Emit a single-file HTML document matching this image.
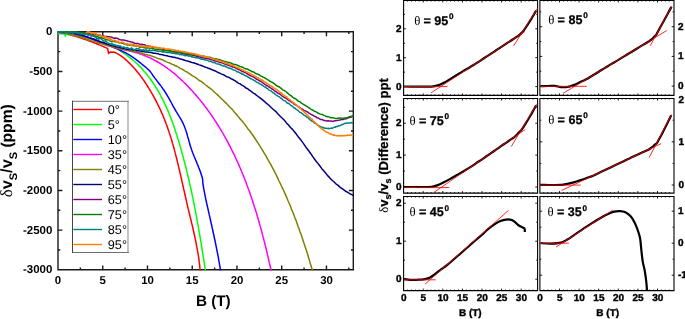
<!DOCTYPE html>
<html lang="en"><head><meta charset="utf-8"><title>Sound velocity vs B</title>
<style>html,body{margin:0;padding:0;background:#fff;overflow:hidden}svg{display:block}text{font-family:"Liberation Sans",sans-serif;fill:#000;text-rendering:geometricPrecision}.b{font-weight:bold}.sy{font-family:"Liberation Serif","DejaVu Serif",serif;font-weight:normal;stroke:none}.s{stroke:#000;stroke-width:0.4px;stroke-linejoin:round}.s2{stroke:#000;stroke-width:0.25px;stroke-linejoin:round}.c{fill:none;stroke-linejoin:round;stroke-linecap:butt}</style></head><body>
<svg width="685" height="319" viewBox="0 0 685 319">
<rect width="685" height="319" fill="#fff"/>
<defs><clipPath id="cl"><rect x="58.0" y="31.0" width="295.7" height="239.4"/></clipPath></defs>
<path d="M58.0 31.8H353.3V269.8H58.0ZM80.37 269.8v-2.3M80.37 31.8v2.3M102.74 269.8v-4.4M102.74 31.8v4.4M125.11 269.8v-2.3M125.11 31.8v2.3M147.48 269.8v-4.4M147.48 31.8v4.4M169.86 269.8v-2.3M169.86 31.8v2.3M192.23 269.8v-4.4M192.23 31.8v4.4M214.60 269.8v-2.3M214.60 31.8v2.3M236.97 269.8v-4.4M236.97 31.8v4.4M259.34 269.8v-2.3M259.34 31.8v2.3M281.71 269.8v-4.4M281.71 31.8v4.4M304.08 269.8v-2.3M304.08 31.8v2.3M326.45 269.8v-4.4M326.45 31.8v4.4M348.83 269.8v-2.3M348.83 31.8v2.3M58.0 51.63h2.3M353.3 51.63h-2.3M58.0 71.47h4.4M353.3 71.47h-4.4M58.0 91.30h2.3M353.3 91.30h-2.3M58.0 111.13h4.4M353.3 111.13h-4.4M58.0 130.97h2.3M353.3 130.97h-2.3M58.0 150.80h4.4M353.3 150.80h-4.4M58.0 170.63h2.3M353.3 170.63h-2.3M58.0 190.47h4.4M353.3 190.47h-4.4M58.0 210.30h2.3M353.3 210.30h-2.3M58.0 230.13h4.4M353.3 230.13h-4.4M58.0 249.97h2.3M353.3 249.97h-2.3" fill="none" stroke="#1a1a1a" stroke-width="1.4" stroke-linejoin="miter"/>
<g clip-path="url(#cl)">
<path class="c" stroke="#ff0000" stroke-width="1.50" d="M58.0 32.2C58.3 32.3 59.4 32.5 60.0 32.6C60.7 32.8 61.4 32.9 62.1 33.0C62.8 33.2 63.5 33.3 64.1 33.5C64.8 33.6 65.5 33.8 66.2 33.9C66.9 34.1 67.5 34.3 68.2 34.4C68.9 34.6 69.6 34.8 70.2 35.0C70.9 35.1 71.6 35.3 72.3 35.5C72.9 35.7 73.6 35.9 74.3 36.1C75.0 36.3 75.6 36.4 76.3 36.6C77.0 36.8 77.6 37.0 78.3 37.3C79.0 37.5 79.6 37.7 80.3 37.9C80.9 38.1 81.6 38.3 82.3 38.5C82.9 38.7 83.6 39.0 84.3 39.2C84.9 39.4 85.6 39.6 86.2 39.9C86.9 40.1 87.5 40.3 88.2 40.6C88.9 40.8 89.5 41.1 90.2 41.3C90.8 41.5 91.5 41.8 92.1 42.0C92.8 42.3 93.4 42.5 94.1 42.8C94.7 43.0 95.4 43.3 96.0 43.5C96.7 43.8 97.3 44.1 98.0 44.3C98.6 44.6 99.3 44.9 99.9 45.1C100.5 45.4 101.2 45.7 101.8 45.9C102.5 46.2 103.1 46.5 103.8 46.8C104.4 47.0 105.0 47.3 105.7 47.6C106.3 47.9 107.3 48.3 107.6 48.4L108.1 51L108.6 53.5L109.6 52.4L111 52.0L113.5 52.2L113.6 52.0C113.9 52.1 114.9 52.5 115.5 52.8C116.1 53.0 116.7 53.3 117.2 53.7C117.8 54.0 118.4 54.3 119.0 54.7C119.5 55.0 120.1 55.4 120.7 55.7C121.2 56.1 121.8 56.5 122.3 56.9C122.8 57.3 123.4 57.7 123.9 58.1C124.4 58.6 124.9 59.0 125.4 59.4C126.0 59.9 126.5 60.3 127.0 60.8C127.5 61.3 128.0 61.7 128.4 62.2C128.9 62.7 129.4 63.1 129.9 63.6C130.4 64.1 130.9 64.6 131.3 65.1C131.8 65.6 132.3 66.1 132.7 66.6C133.2 67.1 133.6 67.6 134.1 68.1C134.5 68.6 135.0 69.1 135.4 69.6C135.9 70.1 136.3 70.6 136.8 71.2C137.2 71.7 137.6 72.2 138.0 72.7C138.5 73.3 138.9 73.8 139.3 74.3C139.7 74.8 140.1 75.4 140.5 75.9C140.9 76.5 141.3 77.0 141.7 77.5C142.1 78.1 142.5 78.6 142.9 79.2C143.3 79.7 143.7 80.3 144.1 80.8C144.4 81.4 144.8 81.9 145.2 82.5C145.6 83.1 145.9 83.6 146.3 84.2C146.6 84.7 147.0 85.3 147.4 85.9C147.7 86.5 148.1 87.0 148.4 87.6C148.8 88.2 149.1 88.7 149.5 89.3C149.8 89.9 150.2 90.5 150.5 91.1C150.9 91.6 151.2 92.2 151.6 92.8C151.9 93.4 152.2 94.0 152.6 94.6C152.9 95.2 153.2 95.8 153.6 96.3C153.9 96.9 154.2 97.5 154.5 98.1C154.8 98.7 155.2 99.3 155.5 99.9C155.8 100.5 156.1 101.1 156.4 101.7C156.7 102.3 157.0 102.9 157.3 103.5C157.6 104.1 157.9 104.8 158.2 105.4C158.5 106.0 158.8 106.6 159.1 107.2C159.4 107.8 159.7 108.4 160.0 109.0C160.3 109.7 160.6 110.3 160.8 110.9C161.1 111.5 161.4 112.1 161.7 112.7C161.9 113.4 162.2 114.0 162.5 114.6C162.7 115.2 163.0 115.8 163.3 116.5C163.5 117.1 163.8 117.7 164.0 118.3C164.3 119.0 164.5 119.6 164.8 120.2C165.0 120.8 165.3 121.5 165.5 122.1C165.7 122.7 166.0 123.4 166.2 124.0C166.5 124.6 166.7 125.3 166.9 125.9C167.1 126.5 167.4 127.2 167.6 127.8C167.8 128.4 168.0 129.1 168.3 129.7C168.5 130.3 168.7 131.0 168.9 131.6C169.1 132.3 169.3 132.9 169.5 133.5C169.8 134.2 170.0 134.8 170.2 135.5C170.4 136.1 170.6 136.7 170.8 137.4C171.0 138.0 171.2 138.7 171.4 139.3C171.6 140.0 171.8 140.6 172.0 141.3C172.1 141.9 172.3 142.5 172.5 143.2C172.7 143.8 172.9 144.5 173.1 145.1C173.3 145.8 173.4 146.4 173.6 147.1C173.8 147.7 174.0 148.4 174.2 149.0C174.3 149.7 174.5 150.3 174.7 151.0C174.9 151.6 175.0 152.3 175.2 153.0C175.4 153.6 175.6 154.3 175.7 154.9C175.9 155.6 176.1 156.2 176.2 156.9C176.4 157.5 176.6 158.2 176.7 158.8C176.9 159.5 177.0 160.2 177.2 160.8C177.4 161.5 177.5 162.1 177.7 162.8C177.8 163.4 178.0 164.1 178.2 164.8C178.3 165.4 178.5 166.1 178.6 166.7C178.8 167.4 178.9 168.1 179.1 168.7C179.2 169.4 179.4 170.0 179.6 170.7C179.7 171.4 179.9 172.0 180.0 172.7C180.2 173.3 180.3 174.0 180.5 174.7C180.6 175.3 180.8 176.0 180.9 176.6C181.1 177.3 181.2 178.0 181.4 178.6C181.5 179.3 181.7 179.9 181.8 180.6C181.9 181.3 182.1 181.9 182.2 182.6C182.4 183.2 182.5 183.9 182.7 184.6C182.8 185.2 183.0 185.9 183.1 186.6C183.3 187.2 183.4 187.9 183.6 188.5C183.7 189.2 183.9 189.9 184.0 190.5C184.2 191.2 184.3 191.9 184.5 192.5C184.6 193.2 184.8 193.8 184.9 194.5C185.1 195.2 185.2 195.8 185.4 196.5C185.5 197.1 185.7 197.8 185.8 198.5C186.0 199.1 186.1 199.8 186.3 200.4C186.4 201.1 186.6 201.8 186.7 202.4C186.9 203.1 187.0 203.7 187.2 204.4C187.3 205.1 187.5 205.7 187.6 206.4C187.8 207.0 188.0 207.7 188.1 208.4C188.3 209.0 188.4 209.7 188.6 210.3C188.7 211.0 188.9 211.6 189.1 212.3C189.2 213.0 189.4 213.6 189.5 214.3C189.7 214.9 189.9 215.6 190.0 216.2C190.2 216.9 190.3 217.6 190.5 218.2C190.6 218.9 190.8 219.5 191.0 220.2C191.1 220.8 191.3 221.5 191.4 222.2C191.6 222.8 191.7 223.5 191.9 224.1C192.1 224.8 192.2 225.4 192.4 226.1C192.5 226.8 192.7 227.4 192.8 228.1C193.0 228.7 193.1 229.4 193.3 230.1C193.4 230.7 193.6 231.4 193.7 232.0C193.9 232.7 194.0 233.3 194.2 234.0C194.3 234.7 194.5 235.3 194.6 236.0C194.8 236.6 194.9 237.3 195.0 238.0C195.2 238.6 195.3 239.3 195.5 239.9C195.6 240.6 195.7 241.3 195.9 241.9C196.0 242.6 196.1 243.2 196.3 243.9C196.4 244.6 196.5 245.2 196.6 245.9C196.8 246.6 196.9 247.2 197.0 247.9C197.1 248.5 197.3 249.2 197.4 249.9C197.5 250.5 197.6 251.2 197.7 251.9C197.8 252.5 197.9 253.2 198.1 253.9C198.2 254.5 198.3 255.2 198.4 255.9C198.5 256.5 198.6 257.2 198.7 257.9C198.8 258.5 198.9 259.2 199.0 259.9C199.0 260.5 199.1 261.2 199.2 261.9C199.3 262.6 199.4 263.2 199.5 263.9C199.6 264.6 199.6 265.2 199.7 265.9C199.8 266.6 199.8 267.3 199.9 267.9C200.0 268.6 200.0 269.3 200.1 270.0C200.2 270.6 200.2 271.7 200.3 272.0"/>
<path class="c" stroke="#00ff00" stroke-width="1.50" d="M58.1 33.6C58.4 33.6 59.4 33.6 60.0 33.7C60.7 33.7 61.3 33.8 62.0 33.8C62.7 33.9 63.3 33.9 64.0 34.0C64.6 34.0 65.3 34.1 66.0 34.2C66.6 34.2 67.3 34.3 68.0 34.4C68.6 34.5 69.3 34.5 70.0 34.6C70.6 34.7 71.3 34.8 71.9 34.9C72.6 35.0 73.3 35.1 73.9 35.2C74.6 35.3 75.3 35.4 75.9 35.5C76.6 35.6 77.3 35.7 77.9 35.8C78.6 36.0 79.3 36.1 79.9 36.2C80.6 36.3 81.2 36.5 81.9 36.6C82.6 36.7 83.2 36.9 83.9 37.0C84.5 37.2 85.2 37.3 85.9 37.5C86.5 37.6 87.2 37.8 87.8 38.0C88.5 38.1 89.2 38.3 89.8 38.5C90.5 38.6 91.1 38.8 91.8 39.0C92.4 39.2 93.1 39.4 93.7 39.6C94.4 39.8 95.0 40.0 95.7 40.2C96.3 40.4 97.0 40.6 97.6 40.8C98.2 41.0 98.9 41.2 99.5 41.4C100.2 41.7 100.8 41.9 101.4 42.1C102.1 42.4 102.7 42.6 103.3 42.8C104.0 43.1 104.6 43.3 105.2 43.6C105.8 43.8 106.5 44.1 107.1 44.4C107.7 44.6 108.3 44.9 108.9 45.2C109.6 45.5 110.2 45.7 110.8 46.0C111.4 46.3 112.0 46.6 112.6 46.9C113.2 47.2 113.8 47.5 114.4 47.8C115.0 48.1 115.6 48.4 116.2 48.7C116.8 49.0 117.4 49.4 118.0 49.7C118.5 50.0 119.1 50.4 119.7 50.7C120.3 51.0 120.9 51.4 121.4 51.7C122.0 52.1 122.6 52.4 123.1 52.8C123.7 53.2 124.3 53.5 124.8 53.9C125.4 54.3 125.9 54.7 126.5 55.1C127.0 55.4 127.6 55.8 128.1 56.2C128.6 56.6 129.2 57.0 129.7 57.4C130.2 57.8 130.8 58.3 131.3 58.7C131.8 59.1 132.3 59.5 132.8 60.0C133.3 60.4 133.8 60.8 134.3 61.3C134.9 61.7 135.3 62.2 135.8 62.6C136.3 63.1 136.8 63.5 137.3 64.0C137.8 64.5 138.3 64.9 138.7 65.4C139.2 65.9 139.7 66.4 140.2 66.8C140.6 67.3 141.1 67.8 141.5 68.3C142.0 68.8 142.4 69.3 142.9 69.8C143.3 70.3 143.8 70.8 144.2 71.3C144.7 71.8 145.1 72.3 145.5 72.8C146.0 73.4 146.4 73.9 146.8 74.4C147.2 74.9 147.6 75.5 148.0 76.0C148.5 76.5 148.9 77.0 149.3 77.6C149.7 78.1 150.1 78.7 150.5 79.2C150.9 79.7 151.2 80.3 151.6 80.8C152.0 81.4 152.4 81.9 152.8 82.5C153.1 83.0 153.5 83.6 153.9 84.2C154.3 84.7 154.6 85.3 155.0 85.8C155.3 86.4 155.7 87.0 156.0 87.5C156.4 88.1 156.7 88.7 157.1 89.2C157.4 89.8 157.8 90.4 158.1 91.0C158.4 91.6 158.8 92.1 159.1 92.7C159.4 93.3 159.8 93.9 160.1 94.5C160.4 95.1 160.7 95.7 161.0 96.3C161.3 96.8 161.7 97.4 162.0 98.0C162.3 98.6 162.6 99.2 162.9 99.8C163.2 100.4 163.5 101.0 163.8 101.6C164.1 102.2 164.4 102.9 164.6 103.5C164.9 104.1 165.2 104.7 165.5 105.3C165.8 105.9 166.1 106.5 166.3 107.1C166.6 107.8 166.9 108.4 167.2 109.0C167.4 109.6 167.7 110.2 168.0 110.9C168.2 111.5 168.5 112.1 168.7 112.7C169.0 113.3 169.2 114.0 169.5 114.6C169.8 115.2 170.0 115.9 170.3 116.5C170.5 117.1 170.7 117.8 171.0 118.4C171.2 119.0 171.5 119.7 171.7 120.3C171.9 120.9 172.2 121.6 172.4 122.2C172.6 122.8 172.9 123.5 173.1 124.1C173.3 124.8 173.6 125.4 173.8 126.0C174.0 126.7 174.2 127.3 174.4 128.0C174.7 128.6 174.9 129.3 175.1 129.9C175.3 130.5 175.5 131.2 175.7 131.8C176.0 132.5 176.2 133.1 176.4 133.8C176.6 134.4 176.8 135.1 177.0 135.7C177.2 136.4 177.4 137.0 177.6 137.7C177.8 138.3 178.0 139.0 178.2 139.6C178.4 140.3 178.6 140.9 178.8 141.6C179.0 142.2 179.2 142.9 179.4 143.5C179.6 144.2 179.7 144.8 179.9 145.5C180.1 146.1 180.3 146.8 180.5 147.4C180.7 148.1 180.9 148.7 181.1 149.4C181.2 150.0 181.4 150.7 181.6 151.3C181.8 152.0 182.0 152.6 182.1 153.3C182.3 153.9 182.5 154.6 182.7 155.3C182.9 155.9 183.0 156.6 183.2 157.2C183.4 157.9 183.6 158.5 183.7 159.2C183.9 159.8 184.1 160.5 184.2 161.1C184.4 161.8 184.6 162.4 184.8 163.1C184.9 163.7 185.1 164.4 185.3 165.0C185.4 165.7 185.6 166.3 185.7 167.0C185.9 167.6 186.1 168.3 186.2 168.9C186.4 169.6 186.6 170.3 186.7 170.9C186.9 171.6 187.0 172.2 187.2 172.9C187.4 173.5 187.5 174.2 187.7 174.8C187.8 175.5 188.0 176.1 188.1 176.8C188.3 177.4 188.4 178.1 188.6 178.7C188.7 179.4 188.9 180.0 189.1 180.7C189.2 181.3 189.4 182.0 189.5 182.7C189.6 183.3 189.8 184.0 189.9 184.6C190.1 185.3 190.2 185.9 190.4 186.6C190.5 187.2 190.7 187.9 190.8 188.5C191.0 189.2 191.1 189.8 191.2 190.5C191.4 191.2 191.5 191.8 191.7 192.5C191.8 193.1 191.9 193.8 192.1 194.4C192.2 195.1 192.4 195.7 192.5 196.4C192.6 197.1 192.8 197.7 192.9 198.4C193.0 199.0 193.2 199.7 193.3 200.3C193.4 201.0 193.6 201.6 193.7 202.3C193.8 203.0 194.0 203.6 194.1 204.3C194.2 204.9 194.4 205.6 194.5 206.2C194.6 206.9 194.7 207.6 194.9 208.2C195.0 208.9 195.1 209.5 195.3 210.2C195.4 210.8 195.5 211.5 195.6 212.2C195.8 212.8 195.9 213.5 196.0 214.1C196.1 214.8 196.3 215.4 196.4 216.1C196.5 216.8 196.6 217.4 196.7 218.1C196.9 218.7 197.0 219.4 197.1 220.1C197.2 220.7 197.4 221.4 197.5 222.0C197.6 222.7 197.7 223.4 197.8 224.0C197.9 224.7 198.1 225.3 198.2 226.0C198.3 226.7 198.4 227.3 198.5 228.0C198.6 228.6 198.8 229.3 198.9 230.0C199.0 230.6 199.1 231.3 199.2 232.0C199.3 232.6 199.4 233.3 199.6 233.9C199.7 234.6 199.8 235.3 199.9 235.9C200.0 236.6 200.1 237.3 200.2 237.9C200.3 238.6 200.5 239.3 200.6 239.9C200.7 240.6 200.8 241.2 200.9 241.9C201.0 242.6 201.1 243.2 201.2 243.9C201.3 244.6 201.4 245.2 201.5 245.9C201.7 246.6 201.8 247.2 201.9 247.9C202.0 248.6 202.1 249.2 202.2 249.9C202.3 250.6 202.4 251.2 202.5 251.9C202.6 252.6 202.7 253.2 202.8 253.9C202.9 254.6 203.0 255.3 203.1 255.9C203.2 256.6 203.4 257.3 203.5 257.9C203.6 258.6 203.7 259.3 203.8 259.9C203.9 260.6 204.0 261.3 204.1 262.0C204.2 262.6 204.3 263.3 204.4 264.0C204.5 264.6 204.6 265.3 204.7 266.0C204.8 266.7 204.9 267.3 205.0 268.0C205.1 268.7 205.2 269.4 205.3 270.0C205.4 270.7 205.6 271.7 205.6 272.1"/>
<path class="c" stroke="#00ff00" stroke-width="1.3" d="M64.6 34.2L65.3 36.4L66.1 34.4"/>
<path class="c" stroke="#0000ff" stroke-width="1.50" d="M58.0 32.1C58.3 32.2 59.3 32.3 60.0 32.4C60.7 32.5 61.3 32.6 62.0 32.7C62.7 32.8 63.3 32.9 64.0 33.0C64.7 33.1 65.3 33.1 66.0 33.2C66.7 33.3 67.3 33.4 68.0 33.5C68.7 33.6 69.4 33.7 70.0 33.8C70.7 33.8 71.4 33.9 72.0 34.0C72.7 34.1 73.4 34.2 74.1 34.3C74.7 34.4 75.4 34.5 76.1 34.6C76.7 34.7 77.4 34.8 78.1 35.0C78.7 35.1 79.4 35.2 80.1 35.3C80.7 35.5 81.4 35.6 82.1 35.7C82.7 35.9 83.4 36.0 84.0 36.2C84.7 36.3 85.3 36.5 86.0 36.7C86.6 36.8 87.3 37.0 87.9 37.2C88.6 37.4 89.2 37.6 89.9 37.8C90.5 38.0 91.1 38.2 91.8 38.4C92.4 38.6 93.1 38.8 93.7 39.0C94.3 39.3 95.0 39.5 95.6 39.7C96.2 40.0 96.8 40.2 97.5 40.5C98.1 40.7 98.7 40.9 99.4 41.2C100.0 41.4 100.6 41.7 101.2 42.0C101.9 42.2 102.5 42.5 103.1 42.7C103.7 43.0 104.3 43.3 105.0 43.5C105.6 43.8 106.2 44.1 106.8 44.3C107.4 44.6 108.1 44.9 108.7 45.1C109.3 45.4 109.9 45.7 110.6 45.9C111.2 46.2 111.8 46.5 112.4 46.7C113.0 47.0 113.7 47.3 114.3 47.6C114.9 47.8 115.5 48.1 116.1 48.4C116.8 48.6 117.4 48.9 118.0 49.2C118.6 49.5 119.2 49.7 119.8 50.0C120.4 50.3 121.1 50.6 121.7 50.9C122.3 51.2 122.9 51.5 123.5 51.8C124.1 52.1 124.7 52.4 125.3 52.7C125.9 53.0 126.5 53.3 127.0 53.7C127.6 54.0 128.2 54.3 128.8 54.7C129.4 55.0 129.9 55.4 130.5 55.7C131.1 56.1 131.7 56.4 132.2 56.8C132.8 57.2 133.3 57.6 133.9 58.0C134.4 58.4 135.0 58.8 135.5 59.2C136.1 59.6 136.6 60.0 137.1 60.4C137.7 60.8 138.2 61.2 138.7 61.6C139.3 62.1 139.8 62.5 140.3 62.9C140.9 63.3 141.4 63.8 141.9 64.2C142.4 64.6 143.0 65.0 143.5 65.5C144.0 65.9 144.6 66.3 145.1 66.7C145.6 67.2 146.1 67.6 146.6 68.0C147.1 68.5 147.6 68.9 148.1 69.4C148.6 69.8 149.1 70.3 149.5 70.8C150.0 71.3 150.4 71.8 150.8 72.4C151.2 72.9 151.6 73.4 152.0 74.0C152.4 74.5 152.7 75.1 153.1 75.7C153.5 76.2 153.9 76.8 154.3 77.3C154.7 77.9 155.1 78.4 155.5 78.9C155.9 79.5 156.3 80.0 156.8 80.6C157.2 81.1 157.6 81.6 158.0 82.2C158.4 82.7 158.8 83.2 159.2 83.7C159.7 84.3 160.1 84.8 160.5 85.4C160.9 85.9 161.3 86.4 161.7 87.0C162.1 87.5 162.5 88.1 162.8 88.7C163.2 89.2 163.6 89.8 164.0 90.3C164.4 90.9 164.7 91.5 165.1 92.0C165.5 92.6 165.8 93.2 166.2 93.7C166.5 94.3 166.9 94.9 167.2 95.5C167.6 96.0 167.9 96.6 168.3 97.2C168.6 97.8 168.9 98.4 169.3 99.0C169.6 99.6 169.9 100.1 170.2 100.7C170.6 101.3 170.9 101.9 171.2 102.5C171.5 103.1 171.8 103.7 172.2 104.3C172.5 104.9 172.8 105.5 173.1 106.1C173.5 106.7 173.8 107.3 174.1 107.8C174.4 108.4 174.8 109.0 175.1 109.6C175.4 110.2 175.8 110.8 176.1 111.4C176.5 111.9 176.8 112.5 177.2 113.1C177.5 113.7 177.9 114.3 178.2 114.8C178.6 115.4 179.0 116.0 179.3 116.6C179.7 117.1 180.0 117.7 180.4 118.3C180.7 118.9 181.0 119.5 181.4 120.0C181.7 120.6 182.0 121.2 182.3 121.8C182.6 122.4 182.9 123.0 183.2 123.6C183.5 124.2 183.7 124.9 184.0 125.5C184.3 126.1 184.5 126.7 184.7 127.3C185.0 128.0 185.2 128.6 185.4 129.2C185.7 129.9 185.9 130.5 186.1 131.1C186.3 131.8 186.5 132.4 186.7 133.1C186.9 133.7 187.1 134.4 187.3 135.0C187.4 135.7 187.6 136.3 187.8 137.0C188.0 137.6 188.2 138.3 188.4 138.9C188.5 139.6 188.7 140.2 188.9 140.9C189.1 141.6 189.3 142.2 189.5 142.9C189.6 143.5 189.8 144.2 190.0 144.8C190.2 145.5 190.4 146.1 190.6 146.8C190.8 147.4 191.0 148.0 191.3 148.7C191.5 149.3 191.7 150.0 191.9 150.6C192.2 151.2 192.4 151.9 192.6 152.5C192.9 153.1 193.1 153.8 193.4 154.4C193.6 155.0 193.9 155.6 194.1 156.3C194.4 156.9 194.6 157.5 194.9 158.1C195.1 158.8 195.4 159.4 195.7 160.0C195.9 160.6 196.2 161.2 196.4 161.9C196.7 162.5 197.0 163.1 197.2 163.7C197.5 164.4 197.7 165.0 198.0 165.6C198.2 166.2 198.5 166.9 198.7 167.5C199.0 168.1 199.2 168.7 199.5 169.4C199.7 170.0 199.9 170.6 200.2 171.3C200.4 171.9 200.6 172.5 200.8 173.2C201.1 173.8 201.3 174.5 201.5 175.1C201.7 175.7 201.9 176.4 202.1 177.0C202.2 177.7 202.5 178.7 202.6 179.0L202.8 182.5C202.8 182.8 202.9 183.6 203.0 184.1C203.1 184.6 203.2 185.1 203.2 185.6C203.3 186.1 203.4 186.6 203.5 187.1C203.6 187.6 203.7 188.1 203.7 188.6C203.8 189.1 203.9 189.7 204.0 190.2C204.1 190.7 204.2 191.2 204.3 191.7C204.4 192.2 204.5 192.7 204.6 193.2C204.7 193.7 204.8 194.2 204.9 194.7C205.0 195.2 205.1 195.7 205.2 196.2C205.3 196.7 205.4 197.2 205.5 197.7C205.6 198.2 205.7 198.7 205.8 199.3C205.9 199.8 206.0 200.3 206.1 200.8C206.3 201.3 206.4 201.8 206.5 202.3C206.6 202.8 206.7 203.3 206.8 203.8C206.9 204.3 207.0 204.8 207.1 205.3C207.3 205.8 207.4 206.3 207.5 206.8C207.6 207.3 207.7 207.8 207.8 208.3C207.9 208.8 208.1 209.3 208.2 209.8C208.3 210.3 208.4 210.8 208.5 211.3C208.6 211.8 208.7 212.3 208.8 212.8C209.0 213.3 209.1 213.8 209.2 214.4C209.3 214.9 209.4 215.4 209.5 215.9C209.6 216.4 209.8 216.9 209.9 217.4C210.0 217.9 210.1 218.4 210.2 218.9C210.3 219.4 210.4 219.9 210.5 220.4C210.7 220.9 210.8 221.4 210.9 221.9C211.0 222.4 211.1 222.9 211.2 223.4C211.3 223.9 211.4 224.4 211.6 224.9C211.7 225.4 211.8 225.9 211.9 226.4C212.0 226.9 212.1 227.4 212.2 227.9C212.3 228.5 212.5 229.0 212.6 229.5C212.7 230.0 212.8 230.5 212.9 231.0C213.0 231.5 213.1 232.0 213.2 232.5C213.3 233.0 213.4 233.5 213.6 234.0C213.7 234.5 213.8 235.0 213.9 235.5C214.0 236.0 214.1 236.5 214.2 237.0C214.3 237.5 214.4 238.0 214.5 238.5C214.6 239.0 214.7 239.5 214.8 240.1C215.0 240.6 215.1 241.1 215.2 241.6C215.3 242.1 215.4 242.6 215.5 243.1C215.6 243.6 215.7 244.1 215.8 244.6C215.9 245.1 216.0 245.6 216.1 246.1C216.2 246.6 216.3 247.1 216.4 247.6C216.5 248.1 216.6 248.6 216.7 249.1C216.8 249.7 216.9 250.2 217.0 250.7C217.1 251.2 217.2 251.7 217.3 252.2C217.4 252.7 217.5 253.2 217.6 253.7C217.7 254.2 217.8 254.7 217.9 255.2C218.0 255.7 218.1 256.2 218.2 256.7C218.3 257.3 218.4 257.8 218.5 258.3C218.5 258.8 218.6 259.3 218.7 259.8C218.8 260.3 218.9 260.8 219.0 261.3C219.1 261.8 219.2 262.3 219.3 262.8C219.4 263.3 219.4 263.9 219.5 264.4C219.6 264.9 219.7 265.4 219.8 265.9C219.9 266.4 220.0 266.9 220.0 267.4C220.1 267.9 220.2 268.4 220.3 268.9C220.4 269.5 220.5 270.0 220.5 270.5C220.6 271.0 220.7 271.8 220.8 272.0"/>
<path class="c" stroke="#ff00ff" stroke-width="1.50" d="M58.0 32.2C58.3 32.2 59.3 32.3 60.0 32.4C60.6 32.5 61.3 32.6 62.0 32.6C62.6 32.7 63.3 32.8 64.0 32.9C64.6 33.0 65.3 33.0 66.0 33.1C66.6 33.2 67.3 33.3 68.0 33.4C68.6 33.5 69.3 33.6 70.0 33.7C70.6 33.8 71.3 33.9 72.0 34.0C72.6 34.1 73.3 34.2 74.0 34.3C74.6 34.4 75.3 34.5 76.0 34.7C76.6 34.8 77.3 34.9 77.9 35.0C78.6 35.2 79.3 35.3 79.9 35.4C80.6 35.6 81.2 35.7 81.9 35.9C82.5 36.0 83.2 36.2 83.8 36.4C84.5 36.6 85.1 36.7 85.8 36.9C86.4 37.1 87.1 37.3 87.7 37.5C88.4 37.7 89.0 37.9 89.6 38.1C90.3 38.3 90.9 38.6 91.5 38.8C92.1 39.0 92.8 39.3 93.4 39.5C94.0 39.8 94.6 40.0 95.2 40.3C95.8 40.6 96.5 40.8 97.1 41.1C97.7 41.4 98.3 41.6 98.9 41.9C99.5 42.2 100.1 42.4 100.7 42.7C101.4 43.0 102.0 43.2 102.6 43.5C103.2 43.8 103.8 44.0 104.4 44.3C105.0 44.5 105.7 44.8 106.3 45.0C106.9 45.3 107.5 45.5 108.2 45.8C108.8 46.0 109.4 46.2 110.1 46.4C110.7 46.6 111.3 46.8 112.0 47.0C112.6 47.2 113.3 47.4 113.9 47.6C114.6 47.8 115.3 47.9 115.9 48.1C116.6 48.2 117.2 48.4 117.9 48.5C118.6 48.7 119.2 48.8 119.9 49.0C120.6 49.1 121.2 49.3 121.9 49.4C122.6 49.5 123.2 49.7 123.9 49.8C124.6 49.9 125.2 50.1 125.9 50.2C126.6 50.3 127.2 50.5 127.9 50.6C128.6 50.8 129.2 50.9 129.9 51.0C130.6 51.2 131.2 51.3 131.9 51.5C132.5 51.7 133.2 51.8 133.8 52.0C134.5 52.2 135.1 52.3 135.8 52.5C136.4 52.7 137.1 52.9 137.7 53.1C138.4 53.3 139.0 53.5 139.6 53.7C140.3 53.9 140.9 54.2 141.5 54.4C142.1 54.6 142.8 54.8 143.4 55.1C144.0 55.3 144.6 55.6 145.2 55.8C145.9 56.1 146.5 56.3 147.1 56.6C147.7 56.9 148.3 57.1 148.9 57.4C149.5 57.7 150.1 58.0 150.7 58.3C151.3 58.5 151.9 58.8 152.5 59.1C153.1 59.4 153.7 59.7 154.2 60.1C154.8 60.4 155.4 60.7 156.0 61.0C156.6 61.3 157.1 61.7 157.7 62.0C158.3 62.3 158.9 62.7 159.4 63.0C160.0 63.3 160.6 63.7 161.1 64.0C161.7 64.4 162.2 64.8 162.8 65.1C163.4 65.5 163.9 65.9 164.5 66.2C165.0 66.6 165.6 67.0 166.1 67.4C166.6 67.7 167.2 68.1 167.7 68.5C168.3 68.9 168.8 69.3 169.3 69.7C169.9 70.1 170.4 70.5 170.9 70.9C171.5 71.3 172.0 71.8 172.5 72.2C173.0 72.6 173.5 73.0 174.1 73.4C174.6 73.9 175.1 74.3 175.6 74.7C176.1 75.2 176.6 75.6 177.1 76.0C177.6 76.5 178.1 76.9 178.6 77.4C179.1 77.8 179.6 78.3 180.1 78.7C180.6 79.2 181.1 79.6 181.6 80.1C182.1 80.5 182.6 81.0 183.1 81.5C183.6 81.9 184.0 82.4 184.5 82.9C185.0 83.3 185.5 83.8 186.0 84.3C186.4 84.8 186.9 85.3 187.4 85.7C187.8 86.2 188.3 86.7 188.8 87.2C189.2 87.7 189.7 88.2 190.2 88.7C190.6 89.2 191.1 89.7 191.5 90.2C192.0 90.6 192.4 91.1 192.9 91.6C193.3 92.2 193.8 92.7 194.2 93.2C194.7 93.7 195.1 94.2 195.6 94.7C196.0 95.2 196.4 95.7 196.9 96.2C197.3 96.7 197.7 97.2 198.2 97.7C198.6 98.3 199.0 98.8 199.4 99.3C199.9 99.8 200.3 100.3 200.7 100.9C201.1 101.4 201.5 101.9 202.0 102.4C202.4 103.0 202.8 103.5 203.2 104.0C203.6 104.5 204.0 105.1 204.4 105.6C204.8 106.1 205.2 106.7 205.6 107.2C206.0 107.7 206.4 108.3 206.8 108.8C207.2 109.3 207.6 109.9 208.0 110.4C208.4 111.0 208.8 111.5 209.2 112.0C209.6 112.6 210.0 113.1 210.4 113.7C210.7 114.2 211.1 114.8 211.5 115.3C211.9 115.9 212.3 116.4 212.6 117.0C213.0 117.5 213.4 118.1 213.7 118.6C214.1 119.2 214.5 119.7 214.8 120.3C215.2 120.9 215.6 121.4 215.9 122.0C216.3 122.5 216.7 123.1 217.0 123.7C217.4 124.2 217.7 124.8 218.1 125.3C218.4 125.9 218.8 126.5 219.1 127.0C219.5 127.6 219.8 128.2 220.2 128.8C220.5 129.3 220.9 129.9 221.2 130.5C221.6 131.0 221.9 131.6 222.2 132.2C222.6 132.8 222.9 133.3 223.2 133.9C223.6 134.5 223.9 135.1 224.2 135.7C224.6 136.2 224.9 136.8 225.2 137.4C225.5 138.0 225.9 138.6 226.2 139.2C226.5 139.7 226.8 140.3 227.1 140.9C227.4 141.5 227.8 142.1 228.1 142.7C228.4 143.3 228.7 143.9 229.0 144.5C229.3 145.0 229.6 145.6 229.9 146.2C230.2 146.8 230.5 147.4 230.8 148.0C231.2 148.6 231.5 149.2 231.7 149.8C232.0 150.4 232.3 151.0 232.6 151.6C232.9 152.2 233.2 152.8 233.5 153.4C233.8 154.0 234.1 154.6 234.4 155.2C234.7 155.8 235.0 156.4 235.2 157.0C235.5 157.6 235.8 158.2 236.1 158.9C236.4 159.5 236.6 160.1 236.9 160.7C237.2 161.3 237.5 161.9 237.8 162.5C238.0 163.1 238.3 163.7 238.6 164.3C238.8 165.0 239.1 165.6 239.4 166.2C239.6 166.8 239.9 167.4 240.2 168.0C240.4 168.7 240.7 169.3 241.0 169.9C241.2 170.5 241.5 171.1 241.7 171.7C242.0 172.4 242.2 173.0 242.5 173.6C242.8 174.2 243.0 174.9 243.3 175.5C243.5 176.1 243.8 176.7 244.0 177.3C244.3 178.0 244.5 178.6 244.7 179.2C245.0 179.8 245.2 180.5 245.5 181.1C245.7 181.7 246.0 182.4 246.2 183.0C246.4 183.6 246.7 184.2 246.9 184.9C247.1 185.5 247.4 186.1 247.6 186.8C247.8 187.4 248.1 188.0 248.3 188.7C248.5 189.3 248.8 189.9 249.0 190.6C249.2 191.2 249.4 191.8 249.7 192.5C249.9 193.1 250.1 193.7 250.3 194.4C250.5 195.0 250.8 195.6 251.0 196.3C251.2 196.9 251.4 197.5 251.6 198.2C251.8 198.8 252.1 199.5 252.3 200.1C252.5 200.7 252.7 201.4 252.9 202.0C253.1 202.6 253.3 203.3 253.5 203.9C253.7 204.6 254.0 205.2 254.2 205.9C254.4 206.5 254.6 207.1 254.8 207.8C255.0 208.4 255.2 209.1 255.4 209.7C255.6 210.3 255.8 211.0 256.0 211.6C256.2 212.3 256.4 212.9 256.6 213.6C256.8 214.2 256.9 214.9 257.1 215.5C257.3 216.1 257.5 216.8 257.7 217.4C257.9 218.1 258.1 218.7 258.3 219.4C258.5 220.0 258.7 220.7 258.8 221.3C259.0 222.0 259.2 222.6 259.4 223.3C259.6 223.9 259.8 224.5 259.9 225.2C260.1 225.8 260.3 226.5 260.5 227.1C260.7 227.8 260.8 228.4 261.0 229.1C261.2 229.7 261.4 230.4 261.5 231.0C261.7 231.7 261.9 232.3 262.1 233.0C262.2 233.6 262.4 234.3 262.6 234.9C262.8 235.6 262.9 236.2 263.1 236.9C263.3 237.5 263.4 238.2 263.6 238.8C263.8 239.5 263.9 240.1 264.1 240.8C264.3 241.4 264.4 242.1 264.6 242.7C264.7 243.4 264.9 244.0 265.1 244.7C265.2 245.3 265.4 246.0 265.6 246.6C265.7 247.3 265.9 247.9 266.0 248.6C266.2 249.2 266.3 249.9 266.5 250.5C266.7 251.2 266.8 251.8 267.0 252.5C267.1 253.1 267.3 253.8 267.4 254.4C267.6 255.1 267.7 255.7 267.9 256.4C268.0 257.0 268.2 257.6 268.3 258.3C268.5 258.9 268.6 259.6 268.8 260.2C268.9 260.9 269.1 261.5 269.2 262.2C269.4 262.8 269.5 263.5 269.7 264.1C269.8 264.8 269.9 265.4 270.1 266.1C270.2 266.7 270.4 267.4 270.5 268.0C270.7 268.7 270.8 269.3 270.9 270.0C271.1 270.6 271.3 271.6 271.4 271.9"/>
<path class="c" stroke="#808000" stroke-width="1.50" d="M58.0 32.0L59.6 32.1L61.1 32.2L62.6 32.7L64.1 32.7L65.6 33.2L67.0 33.4L68.5 33.6L70.0 34.1L71.5 34.3L73.0 34.9L74.4 35.1L75.9 35.5L77.4 36.1L78.8 36.7L80.3 36.8L81.7 37.3L83.2 38.0L84.6 38.6L86.1 38.9L87.5 39.3L89.0 40.1L90.4 40.1L91.9 41.0L93.3 41.2L94.8 41.6L96.2 42.0L97.7 42.6L99.2 43.3L100.6 43.4L102.1 44.0L103.5 44.5L105.0 44.8L106.5 45.3L107.9 45.4L109.4 45.8L110.9 46.3L112.3 46.9L113.8 47.1L115.3 47.4L116.7 47.9L118.2 48.2L119.7 48.4L121.2 49.0L122.7 49.3L124.2 49.3L125.6 49.8L127.1 50.1L128.6 50.6L130.1 50.8L131.6 50.9L133.1 51.5L134.6 51.4L136.0 51.8L137.5 52.3L139.0 52.4L140.5 52.9L141.9 53.0L143.4 53.7L144.9 54.2L146.4 54.5L147.8 55.0L149.3 55.2L150.7 55.8L152.2 56.2L153.6 56.7L155.1 57.1L156.5 57.9L157.9 58.4L159.4 58.7L160.8 59.4L162.2 59.6L163.6 60.5L165.0 61.1L166.5 61.9L167.9 62.4L169.3 62.8L170.6 63.5L172.0 64.2L173.4 64.6L174.8 65.5L176.2 66.0L177.5 66.7L178.9 67.4L180.2 68.5L181.6 68.9L182.9 69.7L184.2 70.5L185.6 71.5L186.9 71.9L188.2 72.9L189.5 73.7L190.8 74.7L192.1 75.5L193.4 76.4L194.6 76.9L195.9 77.8L197.2 78.7L198.4 79.8L199.6 80.7L200.9 81.2L202.1 82.1L203.3 83.0L204.5 84.0L205.7 85.0L208.1 86.9L210.5 88.7L212.8 90.5L215.1 92.7L217.3 94.6L219.5 96.8L221.7 99.0L223.9 101.0L226.0 103.1L228.1 105.3L230.2 107.5L232.3 109.4L234.3 112.1L236.3 114.3L238.2 116.6L240.2 118.9L242.1 121.0L244.0 123.4L245.8 125.7L247.6 128.4L249.4 130.5L251.2 133.0L253.0 135.5L254.7 138.0L256.4 140.7L258.1 143.1L259.7 145.6L261.3 148.3L262.9 150.8L264.5 153.6L266.1 156.1L267.6 159.1L269.1 161.7L270.6 164.1L272.0 166.9L273.5 169.7L274.9 172.4L276.3 175.0L277.7 178.1L279.0 181.0L280.3 183.5L281.6 186.3L282.9 188.9L284.2 191.7L285.5 194.6L286.7 197.4L287.9 200.5L289.1 203.0L290.3 205.8L291.4 209.1L292.6 211.7L293.7 214.4L294.8 217.5L295.9 220.1L297.0 223.2L298.0 226.3L299.1 229.1L300.1 231.9L301.1 234.5L302.1 237.4L303.0 240.2L304.0 243.4L304.9 246.1L305.9 249.1L306.8 251.7L307.7 254.5L308.6 257.7L309.5 260.6L310.3 263.4L311.2 266.2L312.0 269.0L312.8 271.7"/>
<path class="c" stroke="#000080" stroke-width="1.50" d="M58.0 32.2L59.5 32.3L61.1 32.0L62.6 32.1L64.2 32.1L65.7 32.1L67.2 32.2L68.7 32.5L70.2 32.6L71.7 33.1L73.2 33.4L74.7 33.5L76.2 34.0L77.6 34.4L79.1 34.8L80.5 35.0L82.0 35.3L83.4 35.8L84.9 36.2L86.3 36.7L87.8 37.3L89.2 37.9L90.7 38.4L92.1 38.8L93.5 39.3L94.9 39.9L96.4 40.2L97.8 40.9L99.2 41.5L100.7 42.0L102.1 42.4L103.5 42.8L105.0 43.2L106.4 43.9L107.9 44.2L109.3 44.8L110.7 45.3L112.2 45.5L113.6 45.9L115.1 46.6L116.5 46.9L118.0 47.0L119.4 47.3L120.9 47.7L122.4 48.3L123.8 48.5L125.3 48.5L126.8 49.1L128.3 49.4L129.7 49.5L131.2 49.6L132.7 49.9L134.2 49.9L135.7 50.1L137.2 50.7L138.7 50.8L140.2 51.0L141.7 51.3L143.1 51.4L144.6 51.8L146.1 52.0L147.6 52.0L149.1 52.2L150.6 52.5L152.1 52.7L153.6 53.2L155.1 53.3L156.6 53.6L158.1 53.8L159.6 54.4L161.1 54.5L162.5 54.8L164.0 55.2L165.5 55.6L167.0 55.8L168.5 56.3L170.0 56.5L171.5 56.8L172.9 57.2L174.4 57.3L175.9 57.8L177.4 58.1L178.8 58.4L180.3 59.1L181.8 59.3L183.2 59.8L184.7 60.3L186.2 60.7L187.6 61.0L189.1 61.5L190.5 62.0L192.0 62.5L193.4 62.7L194.9 63.3L196.3 63.7L197.7 64.2L199.2 64.9L200.6 65.3L202.0 65.8L203.5 66.4L204.9 67.0L206.3 67.4L207.7 68.0L209.1 68.5L210.5 69.0L211.9 69.7L213.3 70.2L214.7 70.8L216.1 71.4L217.5 72.2L218.8 72.7L220.2 73.4L221.6 74.1L222.9 74.5L224.3 75.2L225.6 76.1L227.0 76.7L228.3 77.1L229.7 77.8L231.0 78.7L232.3 79.2L233.6 80.0L234.9 80.7L236.2 81.7L237.5 82.5L238.8 83.4L240.1 83.8L241.4 84.9L242.7 85.6L244.0 86.3L245.2 87.4L246.5 88.3L247.7 88.8L249.0 89.9L250.2 90.6L251.4 91.5L252.7 92.6L253.9 93.4L255.1 94.0L256.3 95.1L257.5 96.0L259.9 97.8L262.3 99.6L264.6 101.6L266.9 103.7L269.2 105.5L271.4 107.7L273.7 109.7L275.9 111.6L278.0 113.9L280.2 116.2L282.3 118.3L284.4 120.3L286.4 122.9L288.5 125.1L290.5 127.5L292.5 129.4L294.4 131.8L296.3 134.1L298.2 136.8L300.1 139.0L301.9 141.4L303.7 143.9L305.5 146.6L307.3 149.0L309.0 151.2L310.8 153.7L312.6 156.4L314.3 158.8L316.1 161.2L317.9 163.4L319.7 165.8L321.6 168.4L323.5 170.6L325.4 172.8L327.4 175.4L329.4 177.4L331.5 179.7L333.6 181.5L335.9 183.8L338.1 185.4L340.5 187.6L341.7 188.4L342.9 189.2L344.2 190.2L345.5 191.2L346.8 191.8L348.1 192.5L349.4 193.5L350.8 194.1L352.2 194.8L353.6 195.7"/>
<path class="c" stroke="#800080" stroke-width="1.50" d="M57.9 31.9L59.5 31.6L61.0 31.5L62.6 31.6L64.1 31.7L65.6 31.7L67.2 32.1L68.7 31.7L70.2 32.0L71.7 31.8L73.3 32.0L74.8 31.8L76.3 32.1L77.8 32.0L79.3 32.7L80.8 32.7L82.3 32.6L83.8 33.0L85.3 33.5L86.8 33.0L88.3 33.8L89.8 33.7L91.3 33.9L92.8 34.4L94.3 34.3L95.8 34.6L97.3 35.0L98.8 35.5L100.2 35.2L101.7 35.9L103.2 36.1L104.7 36.3L106.2 36.4L107.6 36.6L109.1 36.7L110.6 37.1L112.1 37.3L113.5 38.2L115.0 38.1L116.5 38.3L118.0 38.6L119.4 39.5L120.9 39.9L122.4 40.1L123.8 40.1L125.3 40.4L126.8 40.8L128.2 41.3L129.7 41.4L131.2 42.0L132.7 42.2L134.1 43.1L135.6 43.4L137.1 43.4L138.5 43.5L140.0 44.5L141.5 44.3L143.0 44.7L144.4 44.8L145.9 45.4L147.4 45.8L148.9 46.2L150.3 46.3L151.8 46.9L153.3 46.9L154.8 47.4L156.3 47.6L157.8 48.1L159.2 48.2L160.7 48.5L162.2 49.0L163.7 49.3L165.2 49.8L166.7 50.1L168.2 50.5L169.7 50.8L171.2 51.1L172.7 51.5L174.2 51.5L175.7 51.8L177.2 52.5L178.7 52.3L180.2 52.9L181.7 53.2L183.2 53.1L184.7 53.9L186.2 54.2L187.6 54.4L189.1 54.7L190.6 55.1L192.1 55.0L193.6 55.5L195.1 55.9L196.6 56.4L198.1 56.7L199.5 57.0L201.0 57.2L202.5 57.8L204.0 58.0L205.4 58.4L206.9 58.5L208.4 58.7L209.8 59.2L211.3 59.7L212.7 59.9L214.2 60.8L215.6 61.0L217.1 61.5L218.5 61.9L220.0 62.4L221.4 62.8L222.8 62.9L224.2 63.9L225.7 64.4L227.1 64.7L228.5 65.3L229.9 65.9L231.3 66.1L232.7 67.0L234.1 67.3L235.4 67.8L236.8 68.5L238.2 69.4L239.5 69.7L240.9 70.7L242.2 71.5L243.6 71.8L244.9 72.5L246.3 73.2L247.6 74.1L248.9 74.8L250.2 75.5L251.6 76.2L252.9 76.6L254.2 77.4L255.5 78.3L256.8 79.3L258.1 79.9L259.4 80.8L260.7 81.3L262.0 82.1L263.2 83.1L264.5 84.1L265.8 85.0L267.1 85.8L268.4 86.4L269.6 87.4L270.9 88.2L272.2 89.0L273.4 89.7L274.7 91.0L276.0 91.4L277.2 92.7L278.5 93.6L279.8 93.9L281.0 95.0L282.3 96.1L283.6 97.0L284.8 97.6L286.1 98.3L287.3 99.2L288.6 100.5L289.9 100.9L291.1 101.9L292.4 102.5L293.7 103.6L294.9 104.7L296.2 105.0L297.5 106.3L298.7 106.9L300.0 107.9L301.3 108.6L302.6 109.2L303.8 110.4L305.1 110.9L306.4 111.4L307.7 112.2L309.0 113.2L310.3 113.9L311.6 114.6L312.9 115.2L314.2 116.1L315.5 116.7L316.8 117.7L318.1 117.9L319.5 118.9L320.8 119.5L322.2 119.5L323.6 120.4L325.0 120.6L326.5 121.0L327.9 120.8L329.4 121.0L330.9 121.0L332.4 121.4L333.9 121.1L335.4 120.8L337.0 120.6L338.5 120.3L340.0 119.9L341.6 119.6L343.1 119.6L344.6 118.9L346.1 118.8L347.6 118.0L349.1 117.5L350.5 117.2L352.0 116.5L353.4 116.2"/>
<path class="c" stroke="#008000" stroke-width="1.50" d="M58.0 31.8L59.6 31.5L61.2 31.9L62.7 31.7L64.3 31.5L65.8 31.3L67.4 31.6L68.9 31.6L70.4 31.3L71.9 31.6L73.4 31.1L74.9 31.9L76.5 31.8L77.9 32.4L79.4 32.5L80.9 32.4L82.4 32.5L83.9 33.7L85.4 33.2L86.8 33.9L88.3 34.1L89.8 34.5L91.3 35.3L92.7 36.0L94.2 35.7L95.6 36.5L97.1 36.6L98.6 37.3L100.0 37.5L101.5 37.8L103.0 38.2L104.4 38.7L105.9 39.8L107.3 39.8L108.8 40.0L110.3 41.1L111.7 41.5L113.2 41.4L114.7 41.5L116.1 41.9L117.6 42.1L119.1 42.7L120.6 42.8L122.0 43.3L123.5 43.6L125.0 44.2L126.5 44.8L128.0 45.0L129.5 45.0L131.0 45.2L132.4 45.6L133.9 45.7L135.4 45.9L136.9 45.9L138.4 46.4L139.9 47.3L141.4 46.7L142.9 47.3L144.4 47.7L145.9 48.1L147.4 47.7L148.9 48.0L150.4 48.2L151.9 48.5L153.5 48.8L155.0 49.4L156.5 49.5L158.0 49.7L159.5 49.3L161.0 49.5L162.5 50.2L164.0 50.5L165.6 50.4L167.1 50.7L168.6 50.6L170.1 51.0L171.6 51.5L173.1 51.7L174.6 51.9L176.2 52.2L177.7 51.9L179.2 52.1L180.7 52.3L182.2 52.7L183.7 53.1L185.2 53.4L186.7 53.5L188.3 53.7L189.8 54.0L191.3 54.1L192.8 54.4L194.3 54.3L195.8 55.0L197.3 55.0L198.8 55.6L200.3 55.8L201.8 55.8L203.3 56.0L204.8 56.4L206.3 56.9L207.8 57.2L209.2 57.2L210.7 57.5L212.2 58.1L213.7 58.5L215.2 58.7L216.7 59.0L218.1 59.6L219.6 59.6L221.1 60.2L222.5 60.6L224.0 61.4L225.4 61.6L226.9 62.2L228.4 62.3L229.8 62.7L231.2 63.1L232.7 64.0L234.1 64.4L235.6 64.6L237.0 65.0L238.4 65.8L239.8 66.4L241.3 66.8L242.7 67.3L244.1 68.1L245.5 68.8L246.9 69.0L248.3 69.5L249.7 70.3L251.1 71.0L252.4 71.8L253.8 72.1L255.2 73.2L256.5 73.8L257.9 74.3L259.3 74.9L260.6 76.0L262.0 76.4L263.3 77.4L264.6 77.8L265.9 78.5L267.3 79.6L268.6 80.1L269.9 81.3L271.2 81.9L272.5 82.5L273.8 83.3L275.1 84.3L276.3 85.3L277.6 86.3L278.9 86.7L280.1 87.7L281.4 88.5L282.6 89.9L283.9 90.3L285.1 91.1L286.4 92.0L287.6 93.1L288.9 94.3L290.1 95.2L291.4 96.0L292.6 97.1L293.8 98.0L295.1 98.5L296.3 99.3L297.6 100.6L298.8 101.4L300.1 101.9L301.4 103.1L302.6 103.8L303.9 104.6L305.2 105.4L306.4 106.2L307.7 106.9L309.0 107.8L310.3 108.7L311.6 109.8L312.9 110.1L314.3 111.3L315.6 111.6L317.0 112.3L318.3 113.3L319.7 113.9L321.0 114.3L322.4 114.6L323.8 115.4L325.2 115.9L326.6 116.7L328.0 116.6L329.4 117.1L330.9 117.8L332.3 117.6L333.8 118.0L335.3 118.4L336.7 118.5L338.2 118.2L339.7 118.1L341.2 118.1L342.7 118.5L344.3 118.0L345.8 118.0L347.3 117.8L348.9 117.0L350.5 116.5L352.1 116.3L353.7 115.5"/>
<path class="c" stroke="#008080" stroke-width="1.50" d="M58.0 32.0L59.0 32.2L60.0 31.6L61.1 32.4L62.1 31.8L63.1 31.7L64.1 31.3L65.1 32.6L66.1 32.9L67.2 32.4L68.2 33.0L69.2 31.6L70.2 32.0L71.2 32.4L72.2 33.3L73.2 33.3L74.2 32.5L75.2 32.4L76.2 32.8L77.2 33.0L78.2 33.8L79.2 32.8L80.2 33.9L81.2 33.9L82.2 34.2L83.2 34.3L84.2 34.3L85.2 34.0L86.1 34.2L87.1 34.5L88.1 35.4L89.1 34.5L90.1 35.0L91.0 36.1L92.0 35.6L93.0 35.6L93.9 35.9L94.9 37.1L95.8 37.1L96.8 38.5L97.7 38.7L98.7 39.2L99.6 38.5L100.6 38.6L101.5 39.0L102.5 40.1L103.4 40.9L104.4 40.9L105.3 40.9L106.3 41.7L107.2 42.4L108.1 42.9L109.1 43.4L110.0 43.9L111.0 44.0L111.9 43.5L112.9 45.0L113.9 44.4L114.8 45.2L115.8 45.1L116.7 46.0L117.7 45.4L118.7 45.8L119.6 46.0L120.6 46.1L121.6 47.5L122.6 47.2L123.5 47.0L124.5 47.3L125.5 48.4L126.5 47.8L127.5 47.5L128.5 48.6L129.4 48.5L130.4 49.2L131.4 47.9L132.4 48.7L133.4 49.3L134.4 49.5L135.4 49.7L136.4 48.4L137.4 48.9L138.4 48.8L139.4 49.0L140.4 50.3L141.4 49.8L142.4 50.4L143.4 49.7L144.4 50.5L145.4 50.0L146.4 49.8L147.4 50.6L148.4 50.9L149.4 49.9L150.4 50.6L151.4 50.7L152.4 50.3L153.5 50.6L154.5 50.5L155.5 50.7L156.5 50.8L157.5 51.3L158.5 51.5L159.5 51.1L160.5 51.1L161.5 51.5L162.5 52.0L163.5 51.7L164.5 51.9L165.5 52.0L166.6 52.6L167.6 52.5L168.6 52.3L169.6 52.5L170.6 52.8L171.6 53.1L172.6 53.3L173.6 53.1L174.6 53.3L175.6 53.8L176.6 53.8L177.6 53.8L178.6 54.0L179.6 54.7L180.6 54.4L181.6 54.7L182.6 54.8L183.6 55.0L184.6 55.5L185.6 55.8L186.6 55.5L187.6 55.6L188.6 56.2L189.6 56.0L190.6 56.1L191.6 56.9L192.6 56.8L193.6 57.3L194.6 57.3L195.6 57.8L196.6 57.8L197.6 57.8L198.5 57.9L199.5 58.5L200.5 58.8L201.5 59.3L202.5 59.0L203.5 59.6L204.4 59.7L205.4 60.0L206.4 60.1L207.4 60.4L208.3 60.9L209.3 61.4L210.3 61.2L211.3 61.7L212.2 62.2L213.2 62.7L214.1 62.4L215.1 62.7L216.1 63.6L217.0 63.9L218.0 63.9L218.9 63.9L219.9 64.8L220.8 64.8L221.8 65.5L222.7 65.7L223.7 66.1L224.6 66.0L225.6 66.8L226.5 66.8L227.4 67.3L228.4 68.0L229.3 68.3L230.2 68.3L231.2 68.7L232.1 69.2L233.0 69.7L233.9 70.0L234.9 70.2L235.8 70.7L236.7 71.5L237.6 72.0L238.5 71.9L239.4 72.7L240.3 73.2L241.2 73.2L242.1 74.2L243.0 74.1L243.9 74.9L244.8 75.4L245.7 75.9L246.6 76.1L247.5 76.7L248.4 77.3L249.3 77.7L250.1 78.3L251.0 78.7L251.9 79.1L252.8 79.4L253.6 80.3L254.5 80.7L255.4 81.0L256.3 81.9L257.1 82.4L258.0 82.7L258.8 83.1L259.7 83.8L260.6 84.1L261.4 84.6L262.3 85.4L263.1 85.7L264.0 86.5L264.8 87.1L265.7 87.3L266.5 88.3L267.4 88.4L268.2 89.5L269.1 90.1L269.9 90.4L270.8 90.7L271.6 91.6L272.4 92.0L273.3 93.0L274.1 93.0L275.0 94.1L275.8 94.8L276.6 95.2L277.9 96.1L279.1 96.6L280.4 98.0L281.6 98.5L282.8 99.8L284.1 100.6L285.3 101.0L286.5 102.3L287.8 103.3L289.0 103.6L290.2 104.7L291.5 105.9L292.7 106.4L293.9 107.8L295.1 108.3L296.4 109.6L297.6 110.0L298.8 111.2L300.0 112.4L301.2 112.8L302.5 113.8L303.7 114.9L304.9 115.6L306.1 116.3L307.3 117.3L308.6 118.2L309.8 119.7L311.0 120.4L312.2 121.4L313.4 121.8L314.7 123.1L315.9 123.5L317.1 124.6L318.4 125.5L319.2 125.7L320.1 126.5L320.9 126.7L321.8 127.1L322.7 127.7L323.6 127.4L324.5 128.3L325.4 128.2L326.3 128.3L327.2 128.6L328.2 128.2L329.1 128.8L330.1 128.4L331.1 128.1L332.1 128.2L333.2 127.7L334.2 127.2L335.2 127.3L336.3 126.4L337.3 126.6L338.4 125.8L339.4 125.7L340.5 125.5L341.5 124.8L342.5 124.6L343.6 124.0L344.6 123.4L345.6 123.2L346.6 123.1L347.6 123.2L348.5 123.0L349.5 123.0L350.4 123.1L351.4 122.6L352.3 122.8L353.2 123.0"/>
<path class="c" stroke="#ff8000" stroke-width="1.50" d="M86.1 32.6L86.7 32.9L87.3 31.7L87.9 31.7L88.5 32.4L89.1 31.9L89.7 32.5L90.3 32.3L90.9 33.0L91.5 33.1L92.1 32.5L92.7 33.4L93.3 33.3L93.9 32.8L94.5 34.4L95.1 33.3L95.7 33.3L96.3 33.3L96.8 34.5L97.4 35.1L98.0 35.1L98.6 34.6L99.2 34.6L99.7 34.4L100.3 35.7L100.9 35.8L101.5 35.6L102.0 36.4L102.6 36.3L103.2 37.4L103.8 37.2L104.3 36.6L104.9 38.0L105.5 36.7L106.1 37.8L106.6 37.8L107.2 37.7L107.8 37.6L108.3 39.2L108.9 38.0L109.5 39.2L110.1 40.1L110.6 38.9L111.2 39.2L111.8 40.2L112.4 40.2L112.9 40.6L113.5 41.1L114.1 40.1L114.7 40.6L115.3 40.7L115.8 40.5L116.4 42.1L117.0 42.1L117.6 42.1L118.2 41.0L118.8 42.7L119.3 42.7L119.9 42.3L120.5 42.9L121.1 42.6L121.7 42.3L122.3 42.2L122.9 42.6L123.5 42.3L124.0 43.0L124.6 43.9L125.2 43.9L125.8 44.3L126.4 44.1L127.0 43.5L127.6 44.1L128.2 44.0L128.8 44.7L129.4 44.3L130.0 44.0L130.6 44.7L131.2 45.4L131.8 44.1L132.3 45.4L132.9 44.0L133.5 44.5L134.1 44.5L134.7 45.5L135.3 46.0L135.9 45.7L136.5 45.0L137.1 46.1L137.7 45.2L138.3 45.1L138.9 46.3L139.5 45.9L140.1 46.1L140.7 46.1L141.3 46.7L141.9 45.9L142.5 46.6L143.1 46.4L143.7 46.8L144.3 46.1L144.9 46.7L145.5 46.5L146.1 46.1L146.7 46.1L147.3 46.7L147.9 46.0L148.5 47.3L149.1 46.3L149.7 46.2L150.3 46.4L150.9 47.6L151.5 46.8L152.2 46.6L152.8 46.6L153.4 46.7L154.0 47.6L154.6 47.6L155.2 47.7L155.8 47.8L156.4 47.1L157.0 47.8L157.6 47.6L158.2 48.2L158.8 48.3L159.4 48.4L160.0 47.6L160.6 48.5L161.2 48.6L161.8 48.7L162.4 48.0L163.0 48.2L163.6 48.2L164.2 48.3L164.8 49.0L165.4 49.1L166.0 49.0L166.6 49.2L167.2 49.2L167.8 49.0L168.4 49.0L169.0 49.1L169.6 49.6L170.2 49.3L170.8 49.5L171.4 49.7L172.0 49.5L172.7 49.8L173.3 49.9L173.9 50.2L174.5 50.1L175.1 50.2L175.7 50.7L176.3 50.5L176.9 50.8L177.5 50.8L178.1 50.5L178.7 50.8L179.3 51.0L179.9 51.3L180.5 51.1L181.1 51.4L181.7 51.5L182.3 51.4L182.9 51.9L183.5 51.5L184.1 52.1L184.7 51.8L185.3 51.8L185.9 52.0L186.4 52.5L187.0 52.7L187.6 52.3L188.2 52.7L188.8 52.8L189.4 53.1L190.0 52.9L190.6 53.2L191.2 53.2L191.8 53.6L192.4 53.4L193.0 54.0L193.6 53.7L194.2 53.8L194.8 54.2L195.4 54.2L196.0 54.1L196.6 54.6L197.2 54.4L197.8 54.9L198.3 55.0L198.9 55.2L199.5 55.3L200.1 55.2L200.7 55.4L201.3 55.6L201.9 56.0L202.5 55.7L203.1 56.3L203.7 55.9L204.2 56.2L204.8 56.4L205.4 56.9L206.0 56.8L206.6 56.9L207.2 57.4L207.8 57.1L208.3 57.4L208.9 57.6L209.5 57.9L210.1 58.1L210.7 58.2L211.3 58.2L211.8 58.4L212.4 58.4L213.0 59.0L213.6 59.1L214.2 59.3L214.7 59.1L215.3 59.5L215.9 59.8L216.5 59.9L217.1 59.8L217.6 60.2L218.2 60.6L218.8 60.4L219.4 60.6L219.9 60.9L220.5 61.3L221.1 61.6L221.7 61.3L222.2 61.5L222.8 61.8L223.4 62.0L223.9 62.4L224.5 62.3L225.1 62.6L225.7 62.8L226.2 63.4L226.8 63.5L227.4 63.3L227.9 64.1L228.5 63.8L229.1 64.1L229.6 64.7L230.2 64.8L230.7 65.0L231.3 65.0L231.9 65.1L232.4 65.6L233.0 65.5L233.6 65.8L234.1 66.1L234.7 66.2L235.2 66.6L235.8 67.1L236.3 67.3L236.9 67.4L237.4 67.7L238.0 67.8L238.6 67.9L239.1 68.4L239.7 68.5L240.2 69.0L240.8 69.3L241.3 69.3L241.9 69.6L242.4 70.0L243.0 70.0L243.5 70.2L244.0 70.7L244.6 71.1L245.1 71.3L245.7 71.5L246.2 71.9L246.8 72.0L247.3 72.3L248.0 72.5L248.7 72.8L249.3 73.3L250.0 73.3L250.7 73.9L251.3 74.4L252.0 74.7L252.7 75.0L253.4 75.2L254.0 75.6L254.7 76.0L255.3 76.5L256.0 76.7L256.7 77.3L257.3 77.8L258.0 77.7L258.6 78.4L259.3 78.8L260.0 79.0L260.6 79.4L261.3 80.1L261.9 79.9L262.6 80.6L263.2 80.8L263.9 81.5L264.5 82.0L265.2 82.2L265.8 82.3L266.4 83.0L267.1 83.4L267.7 83.9L268.4 84.2L269.0 84.7L269.6 85.2L270.3 85.4L270.9 85.8L271.5 86.5L272.2 86.5L272.8 87.2L273.4 87.5L274.1 88.1L274.7 88.2L275.3 89.1L275.9 89.2L276.6 89.4L277.2 90.0L277.8 90.5L278.4 90.7L279.0 91.4L279.7 91.9L280.3 92.5L280.9 92.7L281.5 93.1L282.1 93.6L282.7 94.3L283.3 94.9L283.9 95.1L284.5 95.4L285.2 96.2L285.8 96.4L286.4 96.8L287.0 97.2L287.6 98.1L288.2 98.6L288.8 98.9L289.4 99.3L290.0 99.8L290.5 100.1L291.1 101.0L291.7 101.2L292.3 101.8L292.9 102.4L293.5 102.9L294.1 103.2L294.7 103.6L295.3 104.2L295.8 104.5L296.4 105.4L297.0 105.6L297.6 106.4L298.2 106.5L298.7 107.1L299.3 107.5L299.9 108.1L300.5 108.5L301.0 108.9L301.6 109.9L302.2 110.1L302.7 110.6L303.3 111.2L303.9 111.8L304.4 112.3L305.0 112.9L305.5 113.4L306.1 113.8L306.7 114.7L307.2 115.1L307.8 115.2L308.3 116.2L308.9 116.8L309.4 117.2L310.0 117.4L310.5 118.3L311.1 118.7L311.6 118.9L312.2 119.4L312.7 120.5L313.2 120.9L313.8 121.2L314.3 121.6L314.9 122.2L315.4 122.8L316.0 123.6L316.5 123.9L317.0 124.3L317.6 125.3L318.1 125.7L318.7 125.9L319.2 126.8L319.8 127.1L320.4 127.7L320.9 128.1L321.5 128.7L322.1 129.1L322.6 129.6L323.2 129.7L323.8 130.4L324.4 130.7L325.0 131.2L325.6 131.5L326.2 132.1L326.8 132.3L327.4 132.4L328.1 132.8L328.7 133.0L329.3 133.6L330.0 133.6L330.7 134.1L331.3 134.1L332.0 134.6L332.5 134.8L333.1 134.9L333.7 135.3L334.2 134.9L334.8 135.5L335.4 135.4L336.0 135.5L336.6 135.7L337.2 135.9L337.8 135.7L338.4 135.7L339.0 136.0L339.6 135.5L340.2 135.9L340.9 135.9L341.5 135.5L342.1 135.8L342.8 135.8L343.4 135.9L344.0 135.5L344.7 135.9L345.3 135.5L346.0 135.5L346.6 135.6L347.3 135.1L347.9 135.4L348.5 135.3L349.1 135.1L349.8 135.3L350.4 135.0L351.0 135.0L351.6 135.0L352.2 135.1L352.8 134.7L353.4 134.8"/>
</g>
<text class="b" x="58.0" y="284.3" font-size="11.4" text-anchor="middle">0</text>
<text class="b" x="102.7" y="284.3" font-size="11.4" text-anchor="middle">5</text>
<text class="b" x="147.5" y="284.3" font-size="11.4" text-anchor="middle">10</text>
<text class="b" x="192.2" y="284.3" font-size="11.4" text-anchor="middle">15</text>
<text class="b" x="237.0" y="284.3" font-size="11.4" text-anchor="middle">20</text>
<text class="b" x="281.7" y="284.3" font-size="11.4" text-anchor="middle">25</text>
<text class="b" x="326.5" y="284.3" font-size="11.4" text-anchor="middle">30</text>
<text class="b" x="52.4" y="35.3" font-size="11.5" text-anchor="end">0</text>
<text class="b" x="52.4" y="75.0" font-size="11.5" text-anchor="end">-500</text>
<text class="b" x="52.4" y="114.6" font-size="11.5" text-anchor="end">-1000</text>
<text class="b" x="52.4" y="154.3" font-size="11.5" text-anchor="end">-1500</text>
<text class="b" x="52.4" y="194.0" font-size="11.5" text-anchor="end">-2000</text>
<text class="b" x="52.4" y="233.6" font-size="11.5" text-anchor="end">-2500</text>
<text class="b" x="52.4" y="273.3" font-size="11.5" text-anchor="end">-3000</text>
<text class="b" x="213.3" y="306" font-size="15.3" text-anchor="middle">B (T)</text>
<text class="b" transform="translate(11.8 197.3) rotate(-90)" font-size="16.3"><tspan class="sy" font-size="17">δ</tspan>v<tspan dy="5.2" font-size="11">S</tspan><tspan dy="-5.2">/v</tspan><tspan dy="5.2" font-size="11">S</tspan><tspan dy="-5.2" font-size="15.6"> (ppm)</tspan></text>
<rect x="72.5" y="101.3" width="55.5" height="151.2" fill="#fff" stroke="none"/>
<path d="M128.0 100.7V253.0" stroke="#bdbdbd" stroke-width="1.8" fill="none"/>
<path d="M72.0 101.3H128.9" stroke="#8a8a8a" stroke-width="1.2" fill="none"/>
<path d="M72.0 252.5H128.9" stroke="#707070" stroke-width="1.1" fill="none"/>
<path d="M72.5 100.7V253.0" stroke="#444" stroke-width="1" fill="none"/>
<path d="M73.3 109.5H102" stroke="#ff0000" stroke-width="1.4" fill="none"/>
<text x="107.8" y="113.7" font-size="12.7">0°</text>
<path d="M73.3 124.5H102" stroke="#00ff00" stroke-width="1.4" fill="none"/>
<text x="107.8" y="128.7" font-size="12.7">5°</text>
<path d="M73.3 139.5H102" stroke="#0000ff" stroke-width="1.4" fill="none"/>
<text x="107.8" y="143.7" font-size="12.7">10°</text>
<path d="M73.3 154.5H102" stroke="#ff00ff" stroke-width="1.4" fill="none"/>
<text x="107.8" y="158.7" font-size="12.7">35°</text>
<path d="M73.3 169.5H102" stroke="#808000" stroke-width="1.4" fill="none"/>
<text x="107.8" y="173.7" font-size="12.7">45°</text>
<path d="M73.3 184.5H102" stroke="#000080" stroke-width="1.4" fill="none"/>
<text x="107.8" y="188.7" font-size="12.7">55°</text>
<path d="M73.3 199.5H102" stroke="#800080" stroke-width="1.4" fill="none"/>
<text x="107.8" y="203.7" font-size="12.7">65°</text>
<path d="M73.3 214.5H102" stroke="#008000" stroke-width="1.4" fill="none"/>
<text x="107.8" y="218.7" font-size="12.7">75°</text>
<path d="M73.3 229.5H102" stroke="#008080" stroke-width="1.4" fill="none"/>
<text x="107.8" y="233.7" font-size="12.7">85°</text>
<path d="M73.3 244.5H102" stroke="#ff8000" stroke-width="1.4" fill="none"/>
<text x="107.8" y="248.7" font-size="12.7">95°</text>
<path d="M403.6 0.5H537.6V95.4H403.6ZM403.6 98.5H537.6V193.1H403.6ZM403.6 196.5H537.6V290.6H403.6ZM539.9 0.5H674.0V95.4H539.9ZM539.9 98.5H674.0V193.1H539.9ZM539.9 196.5H674.0V290.6H539.9Z" fill="none" stroke="#000" stroke-width="1.1"/>
<path d="M407.52 95.4v-1.0M407.52 0.5v1.0M411.44 95.4v-1.0M411.44 0.5v1.0M415.36 95.4v-1.0M415.36 0.5v1.0M419.28 95.4v-1.0M419.28 0.5v1.0M423.20 95.4v-2.0M423.20 0.5v2.0M427.12 95.4v-1.0M427.12 0.5v1.0M431.04 95.4v-1.0M431.04 0.5v1.0M434.96 95.4v-1.0M434.96 0.5v1.0M438.88 95.4v-1.0M438.88 0.5v1.0M442.80 95.4v-2.0M442.80 0.5v2.0M446.72 95.4v-1.0M446.72 0.5v1.0M450.64 95.4v-1.0M450.64 0.5v1.0M454.56 95.4v-1.0M454.56 0.5v1.0M458.48 95.4v-1.0M458.48 0.5v1.0M462.40 95.4v-2.0M462.40 0.5v2.0M466.32 95.4v-1.0M466.32 0.5v1.0M470.24 95.4v-1.0M470.24 0.5v1.0M474.16 95.4v-1.0M474.16 0.5v1.0M478.08 95.4v-1.0M478.08 0.5v1.0M482.00 95.4v-2.0M482.00 0.5v2.0M485.92 95.4v-1.0M485.92 0.5v1.0M489.84 95.4v-1.0M489.84 0.5v1.0M493.76 95.4v-1.0M493.76 0.5v1.0M497.68 95.4v-1.0M497.68 0.5v1.0M501.60 95.4v-2.0M501.60 0.5v2.0M505.52 95.4v-1.0M505.52 0.5v1.0M509.44 95.4v-1.0M509.44 0.5v1.0M513.36 95.4v-1.0M513.36 0.5v1.0M517.28 95.4v-1.0M517.28 0.5v1.0M521.20 95.4v-2.0M521.20 0.5v2.0M525.12 95.4v-1.0M525.12 0.5v1.0M529.04 95.4v-1.0M529.04 0.5v1.0M532.96 95.4v-1.0M532.96 0.5v1.0M407.52 193.1v-1.0M407.52 98.5v1.0M411.44 193.1v-1.0M411.44 98.5v1.0M415.36 193.1v-1.0M415.36 98.5v1.0M419.28 193.1v-1.0M419.28 98.5v1.0M423.20 193.1v-2.0M423.20 98.5v2.0M427.12 193.1v-1.0M427.12 98.5v1.0M431.04 193.1v-1.0M431.04 98.5v1.0M434.96 193.1v-1.0M434.96 98.5v1.0M438.88 193.1v-1.0M438.88 98.5v1.0M442.80 193.1v-2.0M442.80 98.5v2.0M446.72 193.1v-1.0M446.72 98.5v1.0M450.64 193.1v-1.0M450.64 98.5v1.0M454.56 193.1v-1.0M454.56 98.5v1.0M458.48 193.1v-1.0M458.48 98.5v1.0M462.40 193.1v-2.0M462.40 98.5v2.0M466.32 193.1v-1.0M466.32 98.5v1.0M470.24 193.1v-1.0M470.24 98.5v1.0M474.16 193.1v-1.0M474.16 98.5v1.0M478.08 193.1v-1.0M478.08 98.5v1.0M482.00 193.1v-2.0M482.00 98.5v2.0M485.92 193.1v-1.0M485.92 98.5v1.0M489.84 193.1v-1.0M489.84 98.5v1.0M493.76 193.1v-1.0M493.76 98.5v1.0M497.68 193.1v-1.0M497.68 98.5v1.0M501.60 193.1v-2.0M501.60 98.5v2.0M505.52 193.1v-1.0M505.52 98.5v1.0M509.44 193.1v-1.0M509.44 98.5v1.0M513.36 193.1v-1.0M513.36 98.5v1.0M517.28 193.1v-1.0M517.28 98.5v1.0M521.20 193.1v-2.0M521.20 98.5v2.0M525.12 193.1v-1.0M525.12 98.5v1.0M529.04 193.1v-1.0M529.04 98.5v1.0M532.96 193.1v-1.0M532.96 98.5v1.0M407.52 290.6v-1.0M407.52 196.5v1.0M411.44 290.6v-1.0M411.44 196.5v1.0M415.36 290.6v-1.0M415.36 196.5v1.0M419.28 290.6v-1.0M419.28 196.5v1.0M423.20 290.6v-2.0M423.20 196.5v2.0M427.12 290.6v-1.0M427.12 196.5v1.0M431.04 290.6v-1.0M431.04 196.5v1.0M434.96 290.6v-1.0M434.96 196.5v1.0M438.88 290.6v-1.0M438.88 196.5v1.0M442.80 290.6v-2.0M442.80 196.5v2.0M446.72 290.6v-1.0M446.72 196.5v1.0M450.64 290.6v-1.0M450.64 196.5v1.0M454.56 290.6v-1.0M454.56 196.5v1.0M458.48 290.6v-1.0M458.48 196.5v1.0M462.40 290.6v-2.0M462.40 196.5v2.0M466.32 290.6v-1.0M466.32 196.5v1.0M470.24 290.6v-1.0M470.24 196.5v1.0M474.16 290.6v-1.0M474.16 196.5v1.0M478.08 290.6v-1.0M478.08 196.5v1.0M482.00 290.6v-2.0M482.00 196.5v2.0M485.92 290.6v-1.0M485.92 196.5v1.0M489.84 290.6v-1.0M489.84 196.5v1.0M493.76 290.6v-1.0M493.76 196.5v1.0M497.68 290.6v-1.0M497.68 196.5v1.0M501.60 290.6v-2.0M501.60 196.5v2.0M505.52 290.6v-1.0M505.52 196.5v1.0M509.44 290.6v-1.0M509.44 196.5v1.0M513.36 290.6v-1.0M513.36 196.5v1.0M517.28 290.6v-1.0M517.28 196.5v1.0M521.20 290.6v-2.0M521.20 196.5v2.0M525.12 290.6v-1.0M525.12 196.5v1.0M529.04 290.6v-1.0M529.04 196.5v1.0M532.96 290.6v-1.0M532.96 196.5v1.0M543.82 95.4v-1.0M543.82 0.5v1.0M547.74 95.4v-1.0M547.74 0.5v1.0M551.66 95.4v-1.0M551.66 0.5v1.0M555.58 95.4v-1.0M555.58 0.5v1.0M559.50 95.4v-2.0M559.50 0.5v2.0M563.42 95.4v-1.0M563.42 0.5v1.0M567.34 95.4v-1.0M567.34 0.5v1.0M571.26 95.4v-1.0M571.26 0.5v1.0M575.18 95.4v-1.0M575.18 0.5v1.0M579.10 95.4v-2.0M579.10 0.5v2.0M583.02 95.4v-1.0M583.02 0.5v1.0M586.94 95.4v-1.0M586.94 0.5v1.0M590.86 95.4v-1.0M590.86 0.5v1.0M594.78 95.4v-1.0M594.78 0.5v1.0M598.70 95.4v-2.0M598.70 0.5v2.0M602.62 95.4v-1.0M602.62 0.5v1.0M606.54 95.4v-1.0M606.54 0.5v1.0M610.46 95.4v-1.0M610.46 0.5v1.0M614.38 95.4v-1.0M614.38 0.5v1.0M618.30 95.4v-2.0M618.30 0.5v2.0M622.22 95.4v-1.0M622.22 0.5v1.0M626.14 95.4v-1.0M626.14 0.5v1.0M630.06 95.4v-1.0M630.06 0.5v1.0M633.98 95.4v-1.0M633.98 0.5v1.0M637.90 95.4v-2.0M637.90 0.5v2.0M641.82 95.4v-1.0M641.82 0.5v1.0M645.74 95.4v-1.0M645.74 0.5v1.0M649.66 95.4v-1.0M649.66 0.5v1.0M653.58 95.4v-1.0M653.58 0.5v1.0M657.50 95.4v-2.0M657.50 0.5v2.0M661.42 95.4v-1.0M661.42 0.5v1.0M665.34 95.4v-1.0M665.34 0.5v1.0M669.26 95.4v-1.0M669.26 0.5v1.0M543.82 193.1v-1.0M543.82 98.5v1.0M547.74 193.1v-1.0M547.74 98.5v1.0M551.66 193.1v-1.0M551.66 98.5v1.0M555.58 193.1v-1.0M555.58 98.5v1.0M559.50 193.1v-2.0M559.50 98.5v2.0M563.42 193.1v-1.0M563.42 98.5v1.0M567.34 193.1v-1.0M567.34 98.5v1.0M571.26 193.1v-1.0M571.26 98.5v1.0M575.18 193.1v-1.0M575.18 98.5v1.0M579.10 193.1v-2.0M579.10 98.5v2.0M583.02 193.1v-1.0M583.02 98.5v1.0M586.94 193.1v-1.0M586.94 98.5v1.0M590.86 193.1v-1.0M590.86 98.5v1.0M594.78 193.1v-1.0M594.78 98.5v1.0M598.70 193.1v-2.0M598.70 98.5v2.0M602.62 193.1v-1.0M602.62 98.5v1.0M606.54 193.1v-1.0M606.54 98.5v1.0M610.46 193.1v-1.0M610.46 98.5v1.0M614.38 193.1v-1.0M614.38 98.5v1.0M618.30 193.1v-2.0M618.30 98.5v2.0M622.22 193.1v-1.0M622.22 98.5v1.0M626.14 193.1v-1.0M626.14 98.5v1.0M630.06 193.1v-1.0M630.06 98.5v1.0M633.98 193.1v-1.0M633.98 98.5v1.0M637.90 193.1v-2.0M637.90 98.5v2.0M641.82 193.1v-1.0M641.82 98.5v1.0M645.74 193.1v-1.0M645.74 98.5v1.0M649.66 193.1v-1.0M649.66 98.5v1.0M653.58 193.1v-1.0M653.58 98.5v1.0M657.50 193.1v-2.0M657.50 98.5v2.0M661.42 193.1v-1.0M661.42 98.5v1.0M665.34 193.1v-1.0M665.34 98.5v1.0M669.26 193.1v-1.0M669.26 98.5v1.0M543.82 290.6v-1.0M543.82 196.5v1.0M547.74 290.6v-1.0M547.74 196.5v1.0M551.66 290.6v-1.0M551.66 196.5v1.0M555.58 290.6v-1.0M555.58 196.5v1.0M559.50 290.6v-2.0M559.50 196.5v2.0M563.42 290.6v-1.0M563.42 196.5v1.0M567.34 290.6v-1.0M567.34 196.5v1.0M571.26 290.6v-1.0M571.26 196.5v1.0M575.18 290.6v-1.0M575.18 196.5v1.0M579.10 290.6v-2.0M579.10 196.5v2.0M583.02 290.6v-1.0M583.02 196.5v1.0M586.94 290.6v-1.0M586.94 196.5v1.0M590.86 290.6v-1.0M590.86 196.5v1.0M594.78 290.6v-1.0M594.78 196.5v1.0M598.70 290.6v-2.0M598.70 196.5v2.0M602.62 290.6v-1.0M602.62 196.5v1.0M606.54 290.6v-1.0M606.54 196.5v1.0M610.46 290.6v-1.0M610.46 196.5v1.0M614.38 290.6v-1.0M614.38 196.5v1.0M618.30 290.6v-2.0M618.30 196.5v2.0M622.22 290.6v-1.0M622.22 196.5v1.0M626.14 290.6v-1.0M626.14 196.5v1.0M630.06 290.6v-1.0M630.06 196.5v1.0M633.98 290.6v-1.0M633.98 196.5v1.0M637.90 290.6v-2.0M637.90 196.5v2.0M641.82 290.6v-1.0M641.82 196.5v1.0M645.74 290.6v-1.0M645.74 196.5v1.0M649.66 290.6v-1.0M649.66 196.5v1.0M653.58 290.6v-1.0M653.58 196.5v1.0M657.50 290.6v-2.0M657.50 196.5v2.0M661.42 290.6v-1.0M661.42 196.5v1.0M665.34 290.6v-1.0M665.34 196.5v1.0M669.26 290.6v-1.0M669.26 196.5v1.0" fill="none" stroke="#000" stroke-width="0.9"/>
<path d="M403.6 86.60h2.3M537.6 86.60h-2.3M403.6 72.15h1.4M537.6 72.15h-1.4M403.6 57.70h2.3M537.6 57.70h-2.3M403.6 43.25h1.4M537.6 43.25h-1.4M403.6 28.80h2.3M537.6 28.80h-2.3M403.6 14.35h1.4M537.6 14.35h-1.4M539.9 86.10h2.3M674.0 86.10h-2.3M539.9 71.25h1.4M674.0 71.25h-1.4M539.9 56.40h2.3M674.0 56.40h-2.3M539.9 41.55h1.4M674.0 41.55h-1.4M539.9 26.70h2.3M674.0 26.70h-2.3M539.9 11.85h1.4M674.0 11.85h-1.4M403.6 187.00h2.3M537.6 187.00h-2.3M403.6 171.05h1.4M537.6 171.05h-1.4M403.6 155.10h2.3M537.6 155.10h-2.3M403.6 139.15h1.4M537.6 139.15h-1.4M403.6 123.20h2.3M537.6 123.20h-2.3M403.6 107.25h1.4M537.6 107.25h-1.4M539.9 185.00h2.3M674.0 185.00h-2.3M539.9 163.40h1.4M674.0 163.40h-1.4M539.9 141.80h2.3M674.0 141.80h-2.3M539.9 120.20h1.4M674.0 120.20h-1.4M403.6 279.20h2.3M537.6 279.20h-2.3M403.6 260.20h1.4M537.6 260.20h-1.4M403.6 241.20h2.3M537.6 241.20h-2.3M403.6 222.20h1.4M537.6 222.20h-1.4M403.6 203.20h2.3M537.6 203.20h-2.3M539.9 275.20h2.3M674.0 275.20h-2.3M539.9 259.20h1.4M674.0 259.20h-1.4M539.9 243.20h2.3M674.0 243.20h-2.3M539.9 227.20h1.4M674.0 227.20h-1.4M539.9 211.20h2.3M674.0 211.20h-2.3" fill="none" stroke="#000" stroke-width="0.9"/>
<text class="b s" x="401.6" y="89.6" font-size="10.0" text-anchor="end">0</text>
<text class="b s" x="401.6" y="60.7" font-size="10.0" text-anchor="end">1</text>
<text class="b s" x="401.6" y="31.8" font-size="10.0" text-anchor="end">2</text>
<text class="b s" x="401.6" y="190.0" font-size="10.0" text-anchor="end">0</text>
<text class="b s" x="401.6" y="158.1" font-size="10.0" text-anchor="end">1</text>
<text class="b s" x="401.6" y="126.2" font-size="10.0" text-anchor="end">2</text>
<text class="b s" x="401.6" y="282.2" font-size="10.0" text-anchor="end">0</text>
<text class="b s" x="401.6" y="244.2" font-size="10.0" text-anchor="end">1</text>
<text class="b s" x="401.6" y="206.2" font-size="10.0" text-anchor="end">2</text>
<text class="b s" x="678.0" y="89.1" font-size="10.0" text-anchor="start">0</text>
<text class="b s" x="678.0" y="59.4" font-size="10.0" text-anchor="start">1</text>
<text class="b s" x="678.0" y="29.7" font-size="10.0" text-anchor="start">2</text>
<text class="b s" x="678.6" y="188.0" font-size="10.0" text-anchor="start">0</text>
<text class="b s" x="678.6" y="144.8" font-size="10.0" text-anchor="start">1</text>
<text class="b s" x="678.6" y="102.6" font-size="10.0" text-anchor="start">2</text>
<text class="b s" x="678.0" y="214.2" font-size="10.0" text-anchor="start">1</text>
<text class="b s" x="678.0" y="246.2" font-size="10.0" text-anchor="start">0</text>
<text class="b s" x="678.0" y="278.2" font-size="10.0" text-anchor="start">-1</text>
<text class="b s" x="403.8" y="300.9" font-size="10.0" text-anchor="middle">0</text>
<text class="b s" x="423.4" y="300.9" font-size="10.0" text-anchor="middle">5</text>
<text class="b s" x="443.0" y="300.9" font-size="10.0" text-anchor="middle">10</text>
<text class="b s" x="462.6" y="300.9" font-size="10.0" text-anchor="middle">15</text>
<text class="b s" x="482.2" y="300.9" font-size="10.0" text-anchor="middle">20</text>
<text class="b s" x="501.8" y="300.9" font-size="10.0" text-anchor="middle">25</text>
<text class="b s" x="521.4" y="300.9" font-size="10.0" text-anchor="middle">30</text>
<text class="b s" x="540.1" y="300.9" font-size="10.0" text-anchor="middle">0</text>
<text class="b s" x="559.7" y="300.9" font-size="10.0" text-anchor="middle">5</text>
<text class="b s" x="579.3" y="300.9" font-size="10.0" text-anchor="middle">10</text>
<text class="b s" x="598.9" y="300.9" font-size="10.0" text-anchor="middle">15</text>
<text class="b s" x="618.5" y="300.9" font-size="10.0" text-anchor="middle">20</text>
<text class="b s" x="638.1" y="300.9" font-size="10.0" text-anchor="middle">25</text>
<text class="b s" x="657.7" y="300.9" font-size="10.0" text-anchor="middle">30</text>
<text class="b s" x="470.3" y="316.2" font-size="10" text-anchor="middle">B (T)</text>
<text class="b s" x="607.7" y="316.4" font-size="10" text-anchor="middle">B (T)</text>
<text class="b s2" transform="translate(387.7 145.4) rotate(-90)" font-size="13.1" text-anchor="middle"><tspan class="sy" font-size="12.8">δ</tspan>v<tspan dy="2.8" font-size="9">s</tspan><tspan dy="-2.8">/v</tspan><tspan dy="2.8" font-size="9">s</tspan><tspan dy="-2.8"> (Difference) ppt</tspan></text>
<text class="sy" x="414.2" y="25.0" font-size="12.8">θ</text>
<text class="b s2" x="423.5" y="25.0" font-size="12.6">= 95</text>
<text class="b s2" x="449.1" y="19.4" font-size="8.2">0</text>
<text class="sy" x="548.3" y="23.8" font-size="12.8">θ</text>
<text class="b s2" x="557.6" y="23.8" font-size="12.6">= 85</text>
<text class="b s2" x="583.2" y="18.2" font-size="8.2">0</text>
<text class="sy" x="409.6" y="124.8" font-size="12.8">θ</text>
<text class="b s2" x="418.9" y="124.8" font-size="12.6">= 75</text>
<text class="b s2" x="444.5" y="119.2" font-size="8.2">0</text>
<text class="sy" x="548.3" y="123.9" font-size="12.8">θ</text>
<text class="b s2" x="557.6" y="123.9" font-size="12.6">= 65</text>
<text class="b s2" x="583.2" y="118.3" font-size="8.2">0</text>
<text class="sy" x="409.6" y="216.2" font-size="12.8">θ</text>
<text class="b s2" x="418.9" y="216.2" font-size="12.6">= 45</text>
<text class="b s2" x="444.5" y="210.6" font-size="8.2">0</text>
<text class="sy" x="547.6" y="216.1" font-size="12.8">θ</text>
<text class="b s2" x="556.9" y="216.1" font-size="12.6">= 35</text>
<text class="b s2" x="582.5" y="210.5" font-size="8.2">0</text>
<path class="c" stroke="#000" stroke-width="2.20" d="M404.0 86.5C405.8 86.5 411.5 86.6 415.0 86.6C418.5 86.6 422.3 86.7 425.0 86.7C427.7 86.7 429.3 86.8 431.4 86.6C433.5 86.4 435.6 86.1 437.7 85.4C439.8 84.8 441.8 83.8 443.9 82.7C446.0 81.7 448.1 80.3 450.2 79.1C452.3 77.9 454.4 76.6 456.5 75.3C458.6 74.0 460.7 72.7 462.8 71.4C464.9 70.1 467.0 69.0 469.1 67.7C471.2 66.5 473.2 65.2 475.3 63.9C477.4 62.6 479.5 61.2 481.6 59.8C483.7 58.4 485.8 57.1 488.0 55.6C490.2 54.1 492.9 52.4 495.1 51.0C497.3 49.5 498.9 48.5 501.0 47.1C503.1 45.7 505.7 44.0 507.7 42.7C509.7 41.4 511.4 40.3 513.0 39.3C514.6 38.2 516.2 37.2 517.5 36.3C518.8 35.4 519.9 34.6 520.9 33.6C521.9 32.6 522.7 31.8 523.6 30.6C524.5 29.4 525.6 27.8 526.5 26.4C527.4 25.1 528.3 23.7 529.1 22.4C529.9 21.1 530.6 20.0 531.5 18.6C532.4 17.1 533.5 15.1 534.3 13.8C535.1 12.4 535.8 11.1 536.1 10.6"/>
<path d="M404.0 86.6L447.5 86.6" stroke="#ff0000" stroke-width="0.85" fill="none"/>
<path d="M431.1 92.8L524.7 31.6" stroke="#ff0000" stroke-width="0.85" fill="none"/>
<path d="M513.7 45.7L537.6 8.2" stroke="#ff0000" stroke-width="0.85" fill="none"/>
<path class="c" stroke="#000" stroke-width="2.20" d="M540.4 86.1C541.7 86.1 545.6 86.0 548.0 86.0C550.4 86.0 552.6 85.7 554.8 85.9C557.0 86.1 559.0 86.9 561.1 87.1C563.2 87.3 565.3 87.3 567.4 87.0C569.5 86.7 571.6 85.9 573.7 85.1C575.8 84.3 577.8 83.3 579.9 82.3C582.0 81.3 584.1 80.5 586.2 79.3C588.3 78.2 590.4 76.8 592.5 75.5C594.6 74.3 596.7 73.0 598.8 71.7C600.9 70.4 603.0 69.2 605.1 67.9C607.2 66.6 609.5 65.3 611.6 63.9C613.8 62.6 615.9 61.3 618.0 60.1C620.1 58.8 622.1 57.6 624.1 56.4C626.1 55.2 627.9 54.1 630.0 52.8C632.1 51.5 634.5 50.1 636.7 48.7C638.9 47.4 640.9 46.2 643.0 44.9C645.1 43.7 647.7 42.1 649.2 41.2C650.7 40.2 651.0 39.9 651.8 39.2C652.6 38.5 653.0 38.0 653.8 37.2C654.5 36.4 655.4 35.9 656.3 34.6C657.2 33.2 658.4 30.8 659.3 29.1C660.2 27.4 660.8 26.3 661.8 24.5C662.8 22.8 664.0 20.6 665.0 18.7C666.0 16.8 667.0 15.0 668.1 13.0C669.2 11.1 670.9 7.9 671.5 6.8"/>
<path d="M540.2 86.3L586.8 86.3" stroke="#ff0000" stroke-width="0.85" fill="none"/>
<path d="M563.0 93.4L666.8 30.5" stroke="#ff0000" stroke-width="0.85" fill="none"/>
<path d="M650.2 45.7L671.8 6.3" stroke="#ff0000" stroke-width="0.85" fill="none"/>
<path class="c" stroke="#000" stroke-width="2.20" d="M404.0 187.0C406.3 187.0 413.4 187.0 418.0 187.0C422.6 187.0 428.1 187.1 431.4 186.8C434.7 186.5 435.6 185.8 437.7 185.1C439.8 184.3 441.8 183.3 443.9 182.3C446.0 181.3 448.1 180.1 450.2 178.9C452.3 177.7 454.4 176.5 456.5 175.3C458.6 174.1 460.7 172.9 462.8 171.7C464.9 170.5 467.0 169.2 469.1 167.9C471.2 166.6 473.3 165.2 475.3 163.8C477.3 162.4 479.5 161.0 481.3 159.8C483.1 158.6 484.3 157.7 486.0 156.5C487.7 155.4 489.7 154.0 491.4 152.8C493.1 151.7 494.3 150.8 496.0 149.7C497.7 148.5 499.7 147.1 501.4 145.9C503.1 144.8 504.5 143.8 506.0 142.8C507.5 141.8 508.9 140.8 510.2 139.9C511.5 139.0 512.9 138.1 514.0 137.3C515.1 136.4 516.0 135.5 516.8 134.7C517.6 133.9 518.2 133.2 519.0 132.4C519.8 131.6 520.7 130.9 521.5 129.8C522.3 128.8 523.0 127.7 524.0 126.1C525.0 124.5 526.6 121.9 527.8 120.0C529.0 118.1 529.9 116.5 531.0 114.6C532.1 112.7 533.4 110.3 534.3 108.7C535.1 107.2 535.8 105.9 536.1 105.4"/>
<path d="M404.0 187.6L449.2 187.6" stroke="#ff0000" stroke-width="0.85" fill="none"/>
<path d="M433.9 192.4L525.3 129.5" stroke="#ff0000" stroke-width="0.85" fill="none"/>
<path d="M511.2 146.6L536.8 104.2" stroke="#ff0000" stroke-width="0.85" fill="none"/>
<path class="c" stroke="#000" stroke-width="2.20" d="M540.4 184.9C542.0 184.9 546.5 185.0 550.0 185.0C553.5 185.0 558.2 185.1 561.1 184.9C564.0 184.7 565.3 184.3 567.4 183.9C569.5 183.5 571.6 183.0 573.7 182.4C575.8 181.8 577.8 181.1 579.9 180.4C582.0 179.7 584.1 179.0 586.2 178.2C588.3 177.4 590.4 176.8 592.5 175.9C594.6 175.0 596.7 173.9 598.8 172.9C600.9 171.9 603.1 170.9 605.1 170.0C607.1 169.0 608.9 168.2 611.0 167.2C613.1 166.2 615.4 165.1 617.6 164.1C619.8 163.1 622.0 162.0 624.1 161.0C626.2 160.0 627.9 159.2 630.0 158.2C632.1 157.3 634.5 156.1 636.7 155.1C638.9 154.1 640.9 153.1 643.0 152.1C645.1 151.1 647.6 150.1 649.2 149.2C650.8 148.3 651.7 147.5 652.6 146.8C653.5 146.1 653.9 145.5 654.6 144.9C655.3 144.3 656.1 144.0 656.8 143.2C657.5 142.4 657.8 141.6 658.6 140.1C659.4 138.6 660.5 136.6 661.8 134.2C663.1 131.7 664.6 128.7 666.2 125.5C667.8 122.4 670.4 117.0 671.2 115.3"/>
<path d="M540.2 185.1L580.6 185.1" stroke="#ff0000" stroke-width="0.85" fill="none"/>
<path d="M561.7 190.4L661.1 143.6" stroke="#ff0000" stroke-width="0.85" fill="none"/>
<path d="M649.2 157.4L671.6 114.5" stroke="#ff0000" stroke-width="0.85" fill="none"/>
<path class="c" stroke="#000" stroke-width="2.20" d="M404.0 279.1C405.4 279.2 409.8 279.8 412.6 279.9C415.4 280.0 418.9 279.7 421.0 279.6C423.1 279.5 423.6 279.5 425.1 279.1C426.6 278.7 428.4 278.2 430.1 277.4C431.8 276.5 433.3 275.4 435.2 274.0C437.1 272.6 439.4 270.7 441.4 269.2C443.4 267.7 445.1 266.7 447.0 265.1C448.9 263.6 451.0 261.8 453.0 260.0C455.0 258.3 457.0 256.6 459.0 254.8C461.0 253.1 463.0 251.3 465.0 249.5C467.0 247.8 469.0 246.0 471.0 244.2C473.0 242.5 475.2 240.6 477.0 239.0C478.8 237.5 480.3 236.4 482.0 234.8C483.7 233.2 485.4 231.3 487.4 229.6C489.3 227.9 491.6 226.2 493.7 224.8C495.8 223.4 497.8 222.1 499.9 221.2C502.0 220.3 504.5 219.9 506.2 219.6C507.9 219.3 508.7 219.3 510.0 219.6C511.3 219.8 512.3 220.1 513.8 221.1C515.3 222.1 517.1 224.3 518.8 225.5C520.5 226.7 522.8 227.4 523.8 228.0C524.8 228.6 524.6 228.7 524.8 228.8"/>
<path class="c" stroke="#000" stroke-width="2.20" d="M524.8 228.4V232"/>
<path d="M404.0 279.8L435.8 279.8" stroke="#ff0000" stroke-width="0.85" fill="none"/>
<path d="M425.1 284.1L508.5 210.4" stroke="#ff0000" stroke-width="0.85" fill="none"/>
<path class="c" stroke="#000" stroke-width="2.20" d="M541.0 243.2C542.7 243.3 547.8 243.7 551.1 243.6C554.5 243.5 558.4 243.3 561.1 242.6C563.8 241.9 565.3 240.7 567.4 239.5C569.5 238.3 570.6 237.4 573.7 235.3C576.8 233.2 582.4 229.4 586.2 226.9C590.0 224.4 592.9 222.5 596.3 220.5C599.7 218.5 603.4 216.3 606.4 214.8C609.4 213.3 611.8 212.2 614.1 211.6C616.4 211.0 618.4 211.0 620.3 211.1C622.2 211.2 623.7 211.5 625.4 212.3C627.1 213.1 628.9 214.5 630.4 216.1C631.9 217.7 633.2 219.8 634.2 221.7C635.2 223.6 636.0 225.6 636.7 227.4C637.4 229.2 637.9 230.6 638.5 232.5C639.1 234.4 639.8 236.5 640.2 239.0C640.6 241.5 640.8 244.9 641.1 247.6C641.4 250.3 641.6 252.6 641.9 255.1C642.2 257.6 642.4 260.1 642.9 262.6C643.4 265.1 644.1 267.1 644.6 270.0C645.1 272.9 645.7 276.7 646.1 280.1C646.5 283.5 646.9 288.6 647.0 290.3"/>
<path d="M540.2 243.2L568.9 243.2" stroke="#ff0000" stroke-width="0.85" fill="none"/>
<path d="M556.1 247.0L612.8 210.1" stroke="#ff0000" stroke-width="0.85" fill="none"/>
</svg></body></html>
